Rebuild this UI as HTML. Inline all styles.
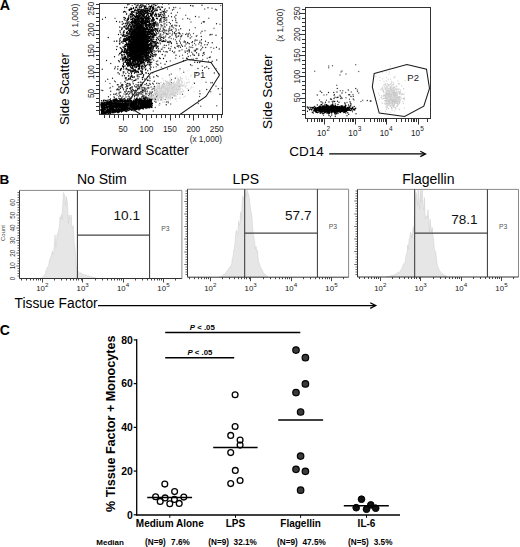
<!DOCTYPE html>
<html><head><meta charset="utf-8"><style>
html,body{margin:0;padding:0;background:#fff;}
body{width:520px;height:547px;overflow:hidden;}
svg{display:block;font-family:"Liberation Sans", sans-serif;}
</style></head><body>
<svg width="520" height="547" viewBox="0 0 520 547">
<rect width="520" height="547" fill="#fff"/>
<path d="M409 277h0M410 77h0M411 362h0M422 70h0M426 242h0M431 317h0M434 387h0M443 254h0M443 365h0M450 313h0M455 377h0M457 165h0M459 275h0M461 377h0M464 398h0M466 374h0M468 357h0M470 356h0M471 358h0M472 266h0M476 347h0M476 349h0M476 357h0M476 360h0M476 375h0M477 369h0M480 172h0M481 129h0M481 383h0M481 385h0M482 354h0M482 396h0M483 347h0M483 369h0M484 137h0M485 342h0M485 394h0M487 339h0M487 415h0M488 389h0M490 350h0M491 167h0M491 338h0M491 343h0M493 143h0M494 269h0M494 359h0M495 266h0M497 123h0M497 193h0M498 108h0M499 249h0M499 367h0M500 108h0M504 320h0M504 364h0M504 388h0M505 338h0M506 160h0M507 343h0M507 347h0M507 375h0M507 377h0M508 347h0M509 249h0M509 320h0M509 334h0M509 374h0M510 354h0M511 398h0M512 334h0M512 344h0M514 256h0M514 366h0M515 379h0M516 62h0M516 167h0M516 184h0M517 162h0M517 408h0M518 339h0M518 388h0M519 354h0M520 316h0M521 337h0M521 400h0M522 200h0M523 351h0M524 365h0M524 395h0M525 165h0M525 300h0M526 365h0M527 307h0M527 361h0M528 348h0M528 368h0M529 204h0M529 367h0M529 375h0M529 377h0M531 78h0M531 205h0M531 219h0M531 358h0M531 381h0M532 192h0M532 225h0M533 335h0M534 30h0M534 362h0M535 168h0M535 362h0M536 100h0M537 96h0M537 213h0M537 307h0M538 293h0M538 344h0M538 386h0M539 74h0M539 88h0M539 120h0M539 202h0M539 382h0M541 122h0M541 167h0M541 178h0M541 362h0M542 135h0M543 148h0M543 158h0M543 193h0M543 225h0M543 229h0M543 361h0M544 317h0M545 167h0M545 186h0M545 290h0M545 376h0M545 422h0M546 193h0M546 379h0M548 371h0M549 191h0M549 236h0M549 395h0M550 353h0M551 210h0M551 354h0M552 247h0M552 401h0M553 169h0M553 330h0M554 172h0M554 377h0M554 420h0M555 169h0M555 203h0M555 224h0M555 231h0M555 341h0M555 373h0M555 397h0M556 139h0M556 236h0M556 298h0M556 403h0M557 25h0M557 171h0M557 217h0M557 230h0M558 65h0M558 217h0M559 181h0M559 355h0M561 248h0M561 329h0M562 339h0M563 396h0M564 105h0M564 338h0M564 368h0M564 376h0M565 115h0M565 284h0M565 348h0M566 341h0M566 395h0M567 215h0M567 388h0M568 111h0M568 330h0M568 339h0M568 366h0M569 94h0M569 125h0M569 361h0M569 403h0M570 64h0M570 318h0M570 370h0M571 157h0M571 360h0M571 363h0M571 380h0M571 386h0M572 163h0M572 168h0M572 212h0M572 220h0M572 230h0M572 359h0M573 362h0M573 402h0M573 418h0M574 389h0M575 119h0M575 121h0M575 141h0M575 395h0M576 210h0M576 350h0M576 364h0M576 383h0M577 159h0M577 191h0M578 140h0M578 353h0M579 27h0M579 34h0M579 161h0M579 316h0M580 183h0M580 338h0M580 389h0M581 157h0M581 217h0M581 360h0M581 367h0M582 155h0M582 410h0M582 415h0M583 101h0M583 117h0M583 173h0M583 217h0M583 375h0M584 111h0M584 112h0M584 176h0M584 276h0M584 374h0M584 385h0M585 104h0M585 184h0M585 200h0M585 238h0M585 405h0M585 415h0M586 97h0M586 111h0M586 261h0M586 334h0M587 16h0M587 160h0M587 205h0M587 356h0M588 51h0M588 187h0M588 220h0M588 222h0M588 341h0M589 139h0M590 164h0M590 178h0M590 257h0M590 364h0M591 70h0M591 217h0M591 283h0M591 322h0M592 352h0M592 397h0M593 235h0M593 392h0M593 426h0M594 61h0M594 167h0M594 243h0M595 36h0M595 147h0M595 188h0M595 201h0M595 342h0M595 352h0M595 384h0M596 70h0M596 234h0M596 246h0M597 146h0M597 227h0M597 373h0M598 76h0M598 161h0M598 176h0M599 97h0M599 204h0M599 368h0M599 378h0M601 117h0M601 133h0M601 337h0M601 368h0M601 387h0M602 117h0M602 169h0M602 174h0M602 194h0M602 217h0M602 279h0M603 110h0M603 185h0M603 250h0M603 372h0M604 103h0M604 203h0M604 221h0M604 348h0M604 374h0M605 100h0M605 160h0M608 167h0M608 193h0M608 379h0M609 139h0M610 82h0M610 101h0M610 114h0M610 136h0M610 140h0M610 151h0M610 181h0M610 199h0M610 368h0M611 36h0M611 73h0M611 186h0M611 333h0M612 71h0M612 72h0M612 142h0M612 148h0M612 189h0M612 355h0M612 395h0M613 37h0M613 51h0M613 55h0M613 104h0M613 193h0M613 226h0M614 140h0M615 147h0M615 308h0M617 219h0M617 325h0M617 353h0M618 105h0M618 169h0M618 346h0M618 404h0M619 166h0M619 361h0M620 114h0M620 174h0M621 39h0M622 176h0M622 397h0M622 400h0M623 171h0M623 380h0M624 33h0M624 372h0M624 408h0M625 191h0M625 218h0M625 219h0M626 96h0M626 158h0M626 387h0M627 116h0M627 120h0M627 333h0M628 150h0M630 75h0M630 125h0M631 114h0M631 120h0M631 154h0M632 96h0M632 126h0M632 306h0M632 346h0M633 173h0M634 195h0M635 132h0M636 58h0M636 204h0M636 334h0M637 30h0M638 122h0M638 163h0M639 90h0M639 146h0M640 84h0M641 152h0M641 155h0M641 175h0M641 205h0M641 234h0M642 60h0M643 136h0M644 144h0M644 399h0M645 66h0M646 389h0M647 51h0M647 88h0M647 103h0M648 166h0M648 377h0M649 150h0M649 354h0M650 16h0M650 391h0M651 124h0M651 340h0M651 358h0M654 69h0M654 154h0M654 163h0M655 62h0M655 148h0M656 56h0M656 87h0M656 119h0M656 152h0M657 58h0M657 70h0M657 77h0M657 165h0M657 181h0M659 46h0M659 68h0M660 48h0M660 132h0M660 257h0M660 372h0M661 72h0M661 81h0M661 166h0M663 381h0M664 121h0M665 182h0M665 389h0M665 419h0M666 134h0M666 246h0M667 71h0M667 100h0M667 136h0M667 207h0M668 43h0M669 137h0M670 169h0M674 64h0M675 193h0M676 116h0M676 122h0M676 151h0M676 171h0M676 333h0M677 32h0M677 90h0M679 108h0M680 146h0M680 201h0M682 95h0M682 166h0M684 121h0M685 53h0M685 171h0M686 67h0M686 103h0M686 174h0M686 331h0M687 119h0M690 40h0M690 205h0M695 30h0M695 356h0M696 211h0M697 382h0M698 130h0M699 68h0M699 134h0M699 190h0M700 101h0M702 313h0M703 81h0M703 141h0M703 371h0M704 61h0M704 221h0M705 135h0M707 148h0M707 173h0M709 185h0M713 132h0M713 145h0M713 183h0M718 104h0M718 134h0M718 164h0M722 189h0M723 115h0M723 147h0M726 180h0M727 142h0M730 185h0M734 243h0M736 168h0M740 184h0M741 209h0M742 168h0M743 138h0M744 176h0M746 233h0M749 234h0M750 170h0M751 74h0M751 204h0M752 140h0M752 146h0M752 172h0M753 136h0M753 226h0M754 361h0M757 175h0M757 208h0M758 120h0M758 203h0M760 239h0M761 152h0M762 22h0M762 259h0M764 189h0M768 170h0M768 237h0M770 167h0M771 216h0M778 221h0M778 333h0M779 249h0M780 201h0M781 160h0M782 66h0M782 203h0M783 201h0M785 145h0M786 196h0M786 211h0M787 292h0M788 161h0M788 234h0M790 250h0M792 274h0M795 216h0M795 222h0M798 249h0M799 170h0M799 250h0M800 375h0M803 200h0M804 245h0M805 146h0M805 172h0M806 159h0M808 21h0M808 125h0M810 282h0M811 189h0M811 222h0M813 87h0M813 213h0M816 88h0M816 210h0M819 271h0M822 165h0M823 190h0M827 267h0M827 358h0M829 179h0M832 31h0M833 171h0M835 274h0M837 230h0M840 140h0M841 138h0M841 228h0M848 138h0M849 171h0M849 245h0M849 331h0M857 292h0M864 141h0M866 95h0M866 189h0M867 240h0M873 355h0M875 295h0M877 196h0M880 377h0M887 152h0M888 353h0" fill="none" stroke="#1a1a1a" stroke-width="5.20" stroke-linecap="round" transform="scale(0.25)"/>
<path d="M405 361h0M422 325h0M436 431h0M440 334h0M440 353h0M441 350h0M441 409h0M442 379h0M451 346h0M456 386h0M458 324h0M459 415h0M460 73h0M462 327h0M466 374h0M467 360h0M468 381h0M469 339h0M475 220h0M475 387h0M476 346h0M478 166h0M478 381h0M481 369h0M481 402h0M483 332h0M484 347h0M484 405h0M489 347h0M492 385h0M492 413h0M493 295h0M493 354h0M496 376h0M497 185h0M497 397h0M497 441h0M498 326h0M498 415h0M500 209h0M501 370h0M502 329h0M502 348h0M502 379h0M502 400h0M503 294h0M503 312h0M504 376h0M505 272h0M505 338h0M505 359h0M505 406h0M506 355h0M506 364h0M507 56h0M508 249h0M509 141h0M509 373h0M511 266h0M512 368h0M513 136h0M513 279h0M513 304h0M513 386h0M513 401h0M514 175h0M515 71h0M516 198h0M517 340h0M518 200h0M518 244h0M518 334h0M518 367h0M518 374h0M520 179h0M520 339h0M521 55h0M521 132h0M521 341h0M522 171h0M522 307h0M522 314h0M522 359h0M523 370h0M524 372h0M525 142h0M525 229h0M525 368h0M528 368h0M529 22h0M529 177h0M529 178h0M529 347h0M529 352h0M530 388h0M531 328h0M533 119h0M533 286h0M534 195h0M534 250h0M534 323h0M536 69h0M536 444h0M537 129h0M538 223h0M538 366h0M538 369h0M538 393h0M538 413h0M539 50h0M539 66h0M539 149h0M540 233h0M540 376h0M541 347h0M542 381h0M544 338h0M544 381h0M544 382h0M545 116h0M545 139h0M545 350h0M546 144h0M546 221h0M546 244h0M546 346h0M547 110h0M548 304h0M548 382h0M548 412h0M549 298h0M549 340h0M550 141h0M550 219h0M550 307h0M550 378h0M550 379h0M550 388h0M551 302h0M551 344h0M552 190h0M552 370h0M553 70h0M553 162h0M553 175h0M553 372h0M553 381h0M554 339h0M554 355h0M554 383h0M555 129h0M555 213h0M555 347h0M556 198h0M556 370h0M556 414h0M557 167h0M558 114h0M558 169h0M558 375h0M559 123h0M559 371h0M559 402h0M559 426h0M560 180h0M560 186h0M560 206h0M560 372h0M561 161h0M562 203h0M562 235h0M562 366h0M563 118h0M563 181h0M563 259h0M563 329h0M563 338h0M563 371h0M563 415h0M564 175h0M564 256h0M565 173h0M566 73h0M566 376h0M567 17h0M567 96h0M567 139h0M567 204h0M567 356h0M567 389h0M568 75h0M568 217h0M569 230h0M569 350h0M569 409h0M570 111h0M570 396h0M571 244h0M571 351h0M572 194h0M572 224h0M572 371h0M572 382h0M572 404h0M573 26h0M574 130h0M574 163h0M574 244h0M575 86h0M575 139h0M576 131h0M576 140h0M576 202h0M576 215h0M576 404h0M577 58h0M577 140h0M577 165h0M577 356h0M577 389h0M578 69h0M579 115h0M579 239h0M579 358h0M580 231h0M581 140h0M581 177h0M582 68h0M582 73h0M582 81h0M582 280h0M582 353h0M582 363h0M582 392h0M583 291h0M583 364h0M583 373h0M583 375h0M584 162h0M585 138h0M585 200h0M585 232h0M585 391h0M586 146h0M586 184h0M586 192h0M586 391h0M586 394h0M587 229h0M587 400h0M588 49h0M588 75h0M588 83h0M588 113h0M588 141h0M588 173h0M588 218h0M588 319h0M588 376h0M589 53h0M589 138h0M589 216h0M589 356h0M589 367h0M590 98h0M590 179h0M590 199h0M590 307h0M591 215h0M591 350h0M592 73h0M592 84h0M592 129h0M592 258h0M592 408h0M594 210h0M594 242h0M594 382h0M595 29h0M595 55h0M595 411h0M596 106h0M596 194h0M596 351h0M598 151h0M598 231h0M598 334h0M598 375h0M599 323h0M600 189h0M600 314h0M600 323h0M600 385h0M600 391h0M601 124h0M601 398h0M602 121h0M603 107h0M603 114h0M603 152h0M604 367h0M604 403h0M605 65h0M605 165h0M605 239h0M606 372h0M607 168h0M607 172h0M607 184h0M607 383h0M607 390h0M607 401h0M608 43h0M608 232h0M608 358h0M609 81h0M609 141h0M609 388h0M609 400h0M609 411h0M610 180h0M611 100h0M611 236h0M612 34h0M612 141h0M612 144h0M612 166h0M612 201h0M612 384h0M613 50h0M613 121h0M613 193h0M613 380h0M613 444h0M614 191h0M614 269h0M614 337h0M615 95h0M615 131h0M615 151h0M615 219h0M615 241h0M616 204h0M617 210h0M618 19h0M618 79h0M618 186h0M618 203h0M619 396h0M620 122h0M620 139h0M620 220h0M621 430h0M623 88h0M623 128h0M623 206h0M623 390h0M623 408h0M624 139h0M624 171h0M625 134h0M625 140h0M625 204h0M625 255h0M625 267h0M626 150h0M626 246h0M626 384h0M627 104h0M627 163h0M627 360h0M629 91h0M629 135h0M629 187h0M629 258h0M629 372h0M630 116h0M631 16h0M631 95h0M631 151h0M631 190h0M631 201h0M631 244h0M631 369h0M631 383h0M632 104h0M633 113h0M633 353h0M633 396h0M634 185h0M635 146h0M637 64h0M637 420h0M638 146h0M638 345h0M638 390h0M639 89h0M639 415h0M640 36h0M640 78h0M640 169h0M640 372h0M640 388h0M642 207h0M642 359h0M643 84h0M643 253h0M643 358h0M644 83h0M644 108h0M645 197h0M645 269h0M646 76h0M646 159h0M646 356h0M647 361h0M648 44h0M648 125h0M648 161h0M649 46h0M649 196h0M649 356h0M651 103h0M652 113h0M652 139h0M652 189h0M652 275h0M653 117h0M653 372h0M654 49h0M654 205h0M654 342h0M655 112h0M655 334h0M656 80h0M656 86h0M656 96h0M656 122h0M656 365h0M657 119h0M658 105h0M658 124h0M658 350h0M659 190h0M660 61h0M660 95h0M660 224h0M661 35h0M661 108h0M661 123h0M661 148h0M661 207h0M661 221h0M661 398h0M662 160h0M663 144h0M664 161h0M664 354h0M664 383h0M665 372h0M666 408h0M667 89h0M667 123h0M667 366h0M668 136h0M668 372h0M669 166h0M670 208h0M670 276h0M670 365h0M672 407h0M673 411h0M674 127h0M674 136h0M675 17h0M675 179h0M677 165h0M677 378h0M678 300h0M679 115h0M679 122h0M680 133h0M680 170h0M681 244h0M682 195h0M683 416h0M684 356h0M685 154h0M685 186h0M685 296h0M686 319h0M687 106h0M687 118h0M688 141h0M689 137h0M689 391h0M690 82h0M690 101h0M690 126h0M691 108h0M691 133h0M694 156h0M695 37h0M695 112h0M696 348h0M699 208h0M701 193h0M702 159h0M703 30h0M703 74h0M703 115h0M703 125h0M703 136h0M703 144h0M703 233h0M704 89h0M704 104h0M705 150h0M706 120h0M706 166h0M707 102h0M708 91h0M709 175h0M710 50h0M714 188h0M715 120h0M715 143h0M716 204h0M717 130h0M718 183h0M718 225h0M719 203h0M719 345h0M720 33h0M720 275h0M721 136h0M721 156h0M722 169h0M722 174h0M725 144h0M726 146h0M728 199h0M730 221h0M730 377h0M731 76h0M731 135h0M732 233h0M735 289h0M738 164h0M739 167h0M740 166h0M740 204h0M743 61h0M746 193h0M747 134h0M748 204h0M750 215h0M754 200h0M757 133h0M757 188h0M757 197h0M759 77h0M762 140h0M762 223h0M764 88h0M767 147h0M767 209h0M768 262h0M769 23h0M770 181h0M771 190h0M773 24h0M773 220h0M774 134h0M774 237h0M777 203h0M778 174h0M779 164h0M781 111h0M781 205h0M783 180h0M784 234h0M788 142h0M788 196h0M791 196h0M793 414h0M795 176h0M795 402h0M796 68h0M798 386h0M799 364h0M800 164h0M803 132h0M803 425h0M804 183h0M806 93h0M806 175h0M807 195h0M809 265h0M810 245h0M811 238h0M817 217h0M818 87h0M819 36h0M819 179h0M820 123h0M824 329h0M829 233h0M834 245h0M835 73h0M843 331h0M843 367h0M844 190h0M846 208h0M846 249h0M848 33h0M855 193h0M855 339h0M856 113h0M862 37h0M864 275h0M864 345h0M866 39h0M867 423h0M880 97h0M883 22h0" fill="none" stroke="#555" stroke-width="5.20" stroke-linecap="round" transform="scale(0.25)"/>
<path d="M573 344h0M587 352h0M597 387h0M598 392h0M599 352h0M599 399h0M600 370h0M600 382h0M600 389h0M601 395h0M602 377h0M602 423h0M603 384h0M605 366h0M609 389h0M610 380h0M610 385h0M612 352h0M612 400h0M613 395h0M614 347h0M614 379h0M614 387h0M615 387h0M616 364h0M616 374h0M616 391h0M619 371h0M619 373h0M620 365h0M620 382h0M620 389h0M620 390h0M621 372h0M621 373h0M621 381h0M622 356h0M622 403h0M623 350h0M623 381h0M624 364h0M624 368h0M624 370h0M625 365h0M625 371h0M625 404h0M626 363h0M626 372h0M626 397h0M627 380h0M627 382h0M628 396h0M629 332h0M629 351h0M629 354h0M629 369h0M629 394h0M629 399h0M630 341h0M630 347h0M630 373h0M630 375h0M630 378h0M630 391h0M630 401h0M631 351h0M631 358h0M631 361h0M632 345h0M632 367h0M632 369h0M632 375h0M633 372h0M633 377h0M633 380h0M634 347h0M634 353h0M634 369h0M634 371h0M634 374h0M634 375h0M634 397h0M635 345h0M635 374h0M635 403h0M636 371h0M637 344h0M637 352h0M637 355h0M637 370h0M637 376h0M637 379h0M637 382h0M637 389h0M638 348h0M638 349h0M638 350h0M638 386h0M639 339h0M639 360h0M639 363h0M639 371h0M639 389h0M639 419h0M640 352h0M640 353h0M640 366h0M640 367h0M640 370h0M640 382h0M640 393h0M641 360h0M641 361h0M641 368h0M641 374h0M641 386h0M642 354h0M642 360h0M642 361h0M642 362h0M642 365h0M642 366h0M642 367h0M642 369h0M642 379h0M642 392h0M642 400h0M643 368h0M643 372h0M643 373h0M643 382h0M643 384h0M644 330h0M644 358h0M644 366h0M644 372h0M645 347h0M645 349h0M645 359h0M645 366h0M645 374h0M646 343h0M646 344h0M646 349h0M646 366h0M646 375h0M646 384h0M646 394h0M647 349h0M647 352h0M647 353h0M647 363h0M647 368h0M647 377h0M647 390h0M647 392h0M647 393h0M647 395h0M648 343h0M648 349h0M648 353h0M648 356h0M648 369h0M648 377h0M648 385h0M649 352h0M649 362h0M649 365h0M649 372h0M649 375h0M649 378h0M649 379h0M649 381h0M649 385h0M649 388h0M649 393h0M650 352h0M650 354h0M650 362h0M650 363h0M650 364h0M650 370h0M650 389h0M650 391h0M651 314h0M651 371h0M651 375h0M651 376h0M651 379h0M651 385h0M651 393h0M651 410h0M652 339h0M652 346h0M652 357h0M652 362h0M652 365h0M652 366h0M652 374h0M652 376h0M653 337h0M653 339h0M653 342h0M653 344h0M653 346h0M653 369h0M653 378h0M653 383h0M653 387h0M654 353h0M654 354h0M654 355h0M654 369h0M654 375h0M654 377h0M654 396h0M655 343h0M655 349h0M655 351h0M655 352h0M655 356h0M655 359h0M655 361h0M655 369h0M655 372h0M655 386h0M655 387h0M656 340h0M656 342h0M656 351h0M656 362h0M656 382h0M657 333h0M657 341h0M657 348h0M657 349h0M657 355h0M657 360h0M657 366h0M657 370h0M657 379h0M658 337h0M658 340h0M658 341h0M658 345h0M658 346h0M658 363h0M658 366h0M658 367h0M658 370h0M658 374h0M658 375h0M658 377h0M658 408h0M659 345h0M659 347h0M659 353h0M659 360h0M659 362h0M659 365h0M659 369h0M659 374h0M659 376h0M659 377h0M659 380h0M659 383h0M660 357h0M660 359h0M660 361h0M660 365h0M660 369h0M660 374h0M660 408h0M661 357h0M661 360h0M661 363h0M661 368h0M661 370h0M661 387h0M662 326h0M662 354h0M662 355h0M662 359h0M662 362h0M662 364h0M662 365h0M662 369h0M662 376h0M662 383h0M663 323h0M663 344h0M663 359h0M663 367h0M663 369h0M663 378h0M663 383h0M664 346h0M664 364h0M664 368h0M664 369h0M665 333h0M665 341h0M665 348h0M665 359h0M665 360h0M665 361h0M665 380h0M665 391h0M666 335h0M666 339h0M666 347h0M666 355h0M666 360h0M666 363h0M666 372h0M666 375h0M666 380h0M666 382h0M667 329h0M667 353h0M667 358h0M667 361h0M667 365h0M667 368h0M667 370h0M667 372h0M667 378h0M667 384h0M668 326h0M668 336h0M668 343h0M668 348h0M668 350h0M668 352h0M668 358h0M668 360h0M668 361h0M668 364h0M668 366h0M668 367h0M668 369h0M668 372h0M668 383h0M669 347h0M669 348h0M669 355h0M669 357h0M669 358h0M669 361h0M669 366h0M669 370h0M670 346h0M670 359h0M670 360h0M670 367h0M670 371h0M670 373h0M670 376h0M670 377h0M670 379h0M671 334h0M671 346h0M671 347h0M671 349h0M671 353h0M671 355h0M671 360h0M671 367h0M671 370h0M671 372h0M671 375h0M671 387h0M671 395h0M672 328h0M672 329h0M672 346h0M672 350h0M672 354h0M672 358h0M672 359h0M672 360h0M672 365h0M673 340h0M673 349h0M673 356h0M673 358h0M673 362h0M673 365h0M673 368h0M674 348h0M674 354h0M674 355h0M674 359h0M674 362h0M674 368h0M674 374h0M674 376h0M674 377h0M674 390h0M675 334h0M675 340h0M675 346h0M675 349h0M675 360h0M675 361h0M675 364h0M675 365h0M675 376h0M675 378h0M676 330h0M676 331h0M676 340h0M676 351h0M676 355h0M676 362h0M676 369h0M676 371h0M676 372h0M676 374h0M676 381h0M676 386h0M676 392h0M677 332h0M677 334h0M677 336h0M677 347h0M677 352h0M677 356h0M677 361h0M677 362h0M677 367h0M677 372h0M677 379h0M678 350h0M678 354h0M678 362h0M678 369h0M678 371h0M678 386h0M678 388h0M679 337h0M679 341h0M679 343h0M679 351h0M679 355h0M679 362h0M679 368h0M679 374h0M679 376h0M679 379h0M679 384h0M680 321h0M680 329h0M680 347h0M680 353h0M680 355h0M680 357h0M680 360h0M680 362h0M680 372h0M680 384h0M680 389h0M681 347h0M681 349h0M681 355h0M681 363h0M681 365h0M681 373h0M681 376h0M681 383h0M681 397h0M682 337h0M682 340h0M682 344h0M682 348h0M682 352h0M682 354h0M682 369h0M682 371h0M682 373h0M682 379h0M683 325h0M683 337h0M683 342h0M683 351h0M683 356h0M683 359h0M683 364h0M683 372h0M683 384h0M683 385h0M683 392h0M684 332h0M684 334h0M684 337h0M684 343h0M684 346h0M684 352h0M684 358h0M684 363h0M684 368h0M684 373h0M684 377h0M685 334h0M685 342h0M685 345h0M685 347h0M685 351h0M685 352h0M685 353h0M685 356h0M685 361h0M686 339h0M686 343h0M686 348h0M686 352h0M686 363h0M686 365h0M686 366h0M686 367h0M686 371h0M686 377h0M687 347h0M687 361h0M687 363h0M687 364h0M687 367h0M688 334h0M688 353h0M688 356h0M688 361h0M688 363h0M688 373h0M689 343h0M689 347h0M689 353h0M689 356h0M689 377h0M689 383h0M690 352h0M691 363h0M691 365h0M691 368h0M691 372h0M691 375h0M692 333h0M692 365h0M692 370h0M693 333h0M693 335h0M693 336h0M693 341h0M693 343h0M693 348h0M693 353h0M693 364h0M693 379h0M694 331h0M694 337h0M694 344h0M694 346h0M694 360h0M694 361h0M694 363h0M694 365h0M694 367h0M695 332h0M695 337h0M695 339h0M695 342h0M695 346h0M695 350h0M695 356h0M695 363h0M695 365h0M696 337h0M696 348h0M696 360h0M696 361h0M696 367h0M696 369h0M696 376h0M696 385h0M697 339h0M697 340h0M697 358h0M697 359h0M697 360h0M697 377h0M698 314h0M698 339h0M698 341h0M699 340h0M699 347h0M699 358h0M699 383h0M700 315h0M700 353h0M700 358h0M700 359h0M700 360h0M700 364h0M700 373h0M701 349h0M701 350h0M701 357h0M701 359h0M701 377h0M701 382h0M701 395h0M702 336h0M702 339h0M702 344h0M702 355h0M702 356h0M702 374h0M702 396h0M703 337h0M703 339h0M703 351h0M703 358h0M703 360h0M704 339h0M704 354h0M704 369h0M704 385h0M705 344h0M705 368h0M706 339h0M706 341h0M706 345h0M706 352h0M706 359h0M707 331h0M707 348h0M708 327h0M708 339h0M708 369h0M709 344h0M709 353h0M709 355h0M709 359h0M709 367h0M709 377h0M710 336h0M710 363h0M711 320h0M711 335h0M711 341h0M711 359h0M711 364h0M711 377h0M712 312h0M712 324h0M712 334h0M712 372h0M713 318h0M713 334h0M713 344h0M713 354h0M713 362h0M714 318h0M714 331h0M714 348h0M715 324h0M715 347h0M715 363h0M716 341h0M716 357h0M716 361h0M717 325h0M717 332h0M717 344h0M717 356h0M718 321h0M719 336h0M719 351h0M719 353h0M720 321h0M720 356h0M720 394h0M721 368h0M722 309h0M723 315h0M723 342h0M723 355h0M723 376h0M726 327h0M726 336h0M726 367h0M727 343h0M729 314h0M729 329h0M730 342h0M730 344h0M733 340h0M733 366h0M740 385h0M746 332h0M749 354h0M757 329h0M765 348h0" fill="none" stroke="#cfcfcf" stroke-width="5.20" stroke-linecap="round" transform="scale(0.25)"/>
<path d="M547 417h0M552 364h0M568 396h0M583 344h0M589 360h0M592 357h0M594 387h0M600 364h0M602 347h0M602 383h0M604 390h0M608 379h0M609 410h0M611 389h0M611 403h0M615 375h0M618 379h0M619 401h0M620 352h0M620 383h0M621 367h0M622 384h0M624 390h0M625 345h0M628 329h0M628 357h0M629 345h0M629 396h0M631 350h0M632 339h0M635 363h0M635 381h0M635 386h0M635 393h0M636 344h0M636 372h0M636 374h0M638 419h0M641 360h0M641 375h0M642 331h0M644 372h0M645 343h0M645 369h0M646 330h0M646 360h0M647 356h0M649 340h0M649 385h0M649 402h0M650 393h0M651 355h0M651 358h0M651 362h0M651 369h0M651 383h0M651 402h0M652 383h0M652 393h0M654 324h0M655 361h0M657 353h0M658 343h0M658 364h0M660 358h0M660 385h0M661 323h0M661 344h0M662 322h0M662 387h0M663 369h0M664 336h0M664 368h0M664 390h0M665 334h0M665 335h0M665 363h0M665 398h0M666 370h0M667 349h0M667 365h0M667 373h0M668 345h0M669 345h0M669 385h0M672 356h0M673 401h0M674 345h0M674 347h0M674 371h0M674 377h0M674 379h0M675 301h0M675 371h0M675 399h0M676 386h0M677 358h0M678 309h0M678 358h0M678 365h0M678 370h0M680 388h0M681 347h0M681 349h0M681 375h0M682 346h0M682 358h0M682 372h0M683 352h0M684 313h0M684 364h0M686 368h0M687 345h0M689 366h0M690 341h0M690 363h0M691 341h0M692 381h0M693 344h0M695 337h0M695 354h0M696 325h0M696 360h0M697 333h0M697 367h0M698 327h0M698 353h0M699 331h0M701 344h0M701 364h0M702 352h0M703 335h0M703 361h0M703 377h0M704 338h0M704 372h0M705 335h0M705 348h0M706 345h0M706 385h0M707 326h0M707 395h0M707 405h0M708 304h0M709 329h0M709 331h0M710 354h0M711 342h0M711 352h0M712 336h0M712 369h0M714 325h0M714 361h0M716 353h0M718 378h0M719 283h0M719 371h0M720 342h0M720 353h0M720 361h0M720 377h0M720 388h0M721 316h0M721 366h0M722 339h0M723 318h0M725 322h0M726 294h0M726 335h0M730 357h0M731 344h0M731 367h0M732 362h0M733 363h0M734 282h0M735 389h0M736 345h0M737 329h0M739 336h0M741 342h0M741 350h0M744 308h0M744 346h0M745 343h0M746 316h0M750 331h0M752 281h0M752 329h0M754 319h0M763 304h0M763 354h0M765 301h0M769 338h0M772 350h0M774 330h0M776 367h0M807 319h0" fill="none" stroke="#e0e0e0" stroke-width="5.20" stroke-linecap="round" transform="scale(0.25)"/>
<path d="M466 198h0M471 276h0M472 339h0M477 247h0M480 162h0M481 191h0M483 151h0M483 237h0M484 275h0M484 279h0M485 194h0M485 209h0M486 274h0M487 118h0M488 114h0M488 199h0M488 222h0M488 228h0M488 229h0M489 141h0M489 199h0M489 205h0M489 303h0M490 220h0M491 144h0M491 237h0M491 240h0M491 263h0M492 173h0M492 188h0M492 206h0M492 236h0M492 244h0M493 132h0M493 144h0M494 157h0M494 258h0M494 268h0M495 126h0M495 210h0M495 276h0M496 70h0M496 130h0M496 155h0M496 159h0M496 190h0M496 219h0M496 234h0M497 79h0M497 201h0M497 228h0M498 165h0M498 199h0M498 202h0M498 207h0M498 211h0M498 219h0M498 303h0M499 105h0M499 147h0M499 155h0M500 195h0M500 197h0M500 232h0M500 236h0M501 146h0M501 161h0M501 179h0M501 204h0M501 209h0M501 225h0M501 241h0M501 312h0M502 166h0M502 186h0M502 196h0M502 246h0M502 248h0M503 155h0M503 227h0M504 81h0M504 141h0M504 161h0M504 162h0M504 168h0M504 180h0M504 212h0M505 117h0M505 200h0M505 234h0M505 241h0M505 312h0M506 103h0M506 131h0M506 151h0M506 173h0M506 216h0M506 241h0M506 258h0M507 144h0M507 160h0M507 179h0M507 210h0M507 252h0M507 256h0M507 274h0M508 113h0M508 177h0M508 179h0M508 184h0M508 254h0M509 162h0M509 193h0M509 209h0M509 214h0M509 215h0M509 232h0M509 239h0M509 241h0M509 254h0M509 279h0M510 155h0M510 158h0M510 159h0M510 186h0M510 196h0M510 202h0M510 224h0M511 76h0M511 135h0M511 149h0M511 154h0M511 155h0M511 178h0M511 189h0M511 200h0M511 210h0M511 255h0M511 256h0M511 288h0M512 139h0M512 153h0M512 155h0M512 210h0M512 223h0M512 227h0M512 239h0M512 248h0M513 73h0M513 78h0M513 108h0M513 174h0M513 216h0M513 249h0M513 252h0M513 263h0M514 68h0M514 107h0M514 148h0M514 189h0M515 91h0M515 121h0M515 152h0M515 166h0M515 171h0M515 177h0M515 194h0M515 210h0M515 236h0M515 243h0M515 281h0M515 318h0M516 86h0M516 123h0M516 134h0M516 148h0M516 160h0M516 166h0M516 167h0M516 177h0M516 188h0M516 204h0M516 251h0M517 96h0M517 147h0M517 166h0M517 189h0M517 198h0M517 211h0M517 236h0M517 257h0M517 262h0M518 124h0M518 132h0M518 148h0M518 185h0M518 209h0M518 218h0M518 222h0M518 225h0M518 235h0M518 237h0M518 245h0M519 139h0M519 147h0M519 150h0M519 166h0M519 167h0M519 181h0M519 193h0M519 195h0M519 202h0M519 203h0M519 211h0M519 212h0M519 240h0M519 245h0M520 113h0M520 145h0M520 167h0M520 180h0M520 188h0M520 222h0M520 225h0M520 243h0M520 252h0M520 258h0M520 259h0M521 123h0M521 149h0M521 162h0M521 168h0M521 174h0M521 186h0M521 188h0M521 191h0M521 209h0M521 216h0M521 239h0M521 248h0M521 255h0M521 315h0M522 90h0M522 163h0M522 177h0M522 184h0M522 190h0M522 192h0M522 211h0M522 219h0M522 223h0M522 234h0M522 245h0M523 118h0M523 125h0M523 138h0M523 148h0M523 168h0M523 172h0M523 176h0M523 183h0M523 204h0M523 210h0M523 214h0M523 221h0M523 229h0M523 234h0M523 240h0M523 251h0M523 254h0M523 280h0M524 110h0M524 130h0M524 137h0M524 138h0M524 140h0M524 150h0M524 152h0M524 153h0M524 154h0M524 156h0M524 157h0M524 178h0M524 183h0M524 187h0M524 190h0M524 197h0M524 211h0M524 215h0M524 216h0M524 230h0M524 251h0M524 263h0M525 38h0M525 106h0M525 135h0M525 142h0M525 143h0M525 148h0M525 153h0M525 155h0M525 183h0M525 208h0M525 214h0M525 216h0M525 223h0M525 232h0M525 239h0M525 257h0M526 87h0M526 114h0M526 132h0M526 158h0M526 176h0M526 179h0M526 187h0M526 189h0M526 195h0M526 203h0M526 206h0M526 217h0M526 218h0M526 262h0M526 305h0M527 106h0M527 119h0M527 138h0M527 140h0M527 147h0M527 151h0M527 185h0M527 188h0M527 189h0M527 196h0M527 198h0M527 218h0M527 222h0M527 229h0M527 261h0M528 66h0M528 87h0M528 99h0M528 113h0M528 119h0M528 126h0M528 131h0M528 135h0M528 145h0M528 153h0M528 156h0M528 171h0M528 183h0M528 188h0M528 191h0M528 192h0M528 208h0M528 218h0M528 253h0M528 273h0M528 283h0M529 60h0M529 73h0M529 95h0M529 132h0M529 157h0M529 179h0M529 192h0M529 194h0M529 197h0M529 204h0M529 225h0M529 233h0M529 252h0M529 273h0M529 283h0M530 75h0M530 84h0M530 123h0M530 128h0M530 134h0M530 135h0M530 148h0M530 151h0M530 153h0M530 159h0M530 183h0M530 195h0M530 201h0M530 209h0M530 219h0M530 228h0M530 230h0M530 237h0M530 238h0M530 239h0M530 268h0M530 309h0M531 90h0M531 120h0M531 122h0M531 133h0M531 135h0M531 140h0M531 145h0M531 150h0M531 151h0M531 160h0M531 171h0M531 172h0M531 173h0M531 179h0M531 196h0M531 199h0M531 227h0M531 239h0M531 242h0M531 244h0M531 263h0M532 49h0M532 99h0M532 107h0M532 113h0M532 128h0M532 134h0M532 137h0M532 160h0M532 175h0M532 191h0M532 193h0M532 206h0M532 213h0M532 220h0M532 225h0M532 226h0M532 238h0M532 260h0M532 274h0M533 59h0M533 75h0M533 108h0M533 120h0M533 135h0M533 146h0M533 154h0M533 156h0M533 165h0M533 172h0M533 174h0M533 185h0M533 197h0M533 229h0M533 237h0M534 135h0M534 143h0M534 151h0M534 170h0M534 178h0M534 183h0M534 190h0M534 208h0M534 256h0M534 284h0M535 105h0M535 111h0M535 125h0M535 143h0M535 153h0M535 156h0M535 171h0M535 174h0M535 180h0M535 183h0M535 189h0M535 201h0M535 203h0M535 205h0M535 207h0M535 209h0M535 216h0M535 228h0M535 233h0M535 235h0M535 240h0M535 243h0M535 247h0M536 61h0M536 84h0M536 102h0M536 110h0M536 118h0M536 124h0M536 131h0M536 137h0M536 143h0M536 145h0M536 165h0M536 169h0M536 176h0M536 178h0M536 182h0M536 183h0M536 188h0M536 198h0M536 201h0M536 210h0M536 217h0M536 231h0M536 239h0M536 261h0M536 309h0M537 126h0M537 134h0M537 143h0M537 145h0M537 146h0M537 150h0M537 157h0M537 159h0M537 161h0M537 164h0M537 165h0M537 181h0M537 182h0M537 183h0M537 186h0M537 190h0M537 193h0M537 201h0M537 210h0M537 212h0M537 215h0M537 227h0M537 233h0M537 234h0M537 268h0M537 280h0M538 42h0M538 101h0M538 105h0M538 120h0M538 128h0M538 135h0M538 139h0M538 147h0M538 149h0M538 152h0M538 153h0M538 156h0M538 158h0M538 164h0M538 168h0M538 176h0M538 178h0M538 182h0M538 185h0M538 188h0M538 190h0M538 191h0M538 192h0M538 195h0M538 201h0M538 205h0M538 209h0M538 222h0M538 260h0M539 92h0M539 102h0M539 116h0M539 131h0M539 136h0M539 143h0M539 153h0M539 158h0M539 160h0M539 162h0M539 167h0M539 172h0M539 175h0M539 176h0M539 179h0M539 181h0M539 182h0M539 188h0M539 191h0M539 196h0M539 211h0M539 221h0M539 241h0M539 262h0M539 289h0M540 80h0M540 81h0M540 121h0M540 125h0M540 129h0M540 133h0M540 140h0M540 141h0M540 144h0M540 146h0M540 151h0M540 154h0M540 160h0M540 170h0M540 172h0M540 173h0M540 177h0M540 183h0M540 187h0M540 197h0M540 201h0M540 202h0M540 214h0M540 216h0M540 219h0M540 233h0M540 238h0M540 239h0M540 241h0M540 267h0M540 282h0M541 86h0M541 91h0M541 93h0M541 110h0M541 118h0M541 122h0M541 127h0M541 132h0M541 139h0M541 140h0M541 150h0M541 157h0M541 170h0M541 178h0M541 183h0M541 185h0M541 196h0M541 208h0M541 211h0M541 212h0M541 217h0M541 226h0M541 229h0M541 233h0M541 236h0M541 251h0M541 277h0M541 281h0M541 288h0M542 81h0M542 97h0M542 127h0M542 128h0M542 134h0M542 142h0M542 155h0M542 159h0M542 162h0M542 165h0M542 176h0M542 178h0M542 180h0M542 182h0M542 185h0M542 192h0M542 193h0M542 195h0M542 201h0M542 207h0M542 214h0M542 222h0M542 236h0M542 283h0M542 288h0M543 78h0M543 87h0M543 88h0M543 94h0M543 101h0M543 104h0M543 120h0M543 123h0M543 127h0M543 134h0M543 147h0M543 150h0M543 151h0M543 152h0M543 153h0M543 162h0M543 166h0M543 176h0M543 178h0M543 180h0M543 198h0M543 203h0M543 206h0M543 208h0M543 209h0M543 212h0M543 214h0M543 216h0M543 217h0M543 220h0M543 243h0M544 86h0M544 139h0M544 141h0M544 149h0M544 152h0M544 156h0M544 165h0M544 166h0M544 173h0M544 177h0M544 182h0M544 183h0M544 187h0M544 190h0M544 196h0M544 198h0M544 199h0M544 208h0M544 213h0M544 214h0M544 222h0M544 223h0M544 226h0M544 233h0M544 251h0M544 257h0M544 260h0M545 50h0M545 88h0M545 98h0M545 116h0M545 118h0M545 127h0M545 144h0M545 147h0M545 148h0M545 158h0M545 160h0M545 161h0M545 164h0M545 165h0M545 171h0M545 181h0M545 191h0M545 193h0M545 205h0M545 207h0M545 210h0M545 221h0M545 224h0M545 228h0M545 232h0M545 255h0M545 270h0M546 110h0M546 115h0M546 116h0M546 130h0M546 132h0M546 134h0M546 136h0M546 147h0M546 151h0M546 161h0M546 164h0M546 168h0M546 172h0M546 175h0M546 178h0M546 179h0M546 184h0M546 186h0M546 193h0M546 195h0M546 200h0M546 207h0M546 211h0M546 217h0M546 223h0M546 227h0M546 269h0M547 80h0M547 120h0M547 127h0M547 133h0M547 135h0M547 145h0M547 171h0M547 184h0M547 190h0M547 193h0M547 207h0M547 229h0M547 232h0M547 235h0M547 286h0M548 42h0M548 95h0M548 98h0M548 103h0M548 115h0M548 117h0M548 134h0M548 142h0M548 149h0M548 150h0M548 152h0M548 156h0M548 169h0M548 170h0M548 189h0M548 207h0M548 209h0M548 222h0M548 236h0M549 105h0M549 108h0M549 109h0M549 139h0M549 141h0M549 146h0M549 154h0M549 155h0M549 156h0M549 162h0M549 166h0M549 170h0M549 173h0M549 174h0M549 179h0M549 180h0M549 190h0M549 191h0M549 200h0M549 201h0M549 224h0M549 236h0M549 244h0M549 258h0M549 261h0M549 285h0M549 288h0M550 67h0M550 88h0M550 94h0M550 111h0M550 117h0M550 127h0M550 132h0M550 166h0M550 170h0M550 175h0M550 184h0M550 185h0M550 186h0M550 189h0M550 191h0M550 198h0M550 203h0M550 219h0M550 227h0M550 245h0M550 252h0M550 254h0M550 255h0M551 76h0M551 120h0M551 125h0M551 136h0M551 137h0M551 138h0M551 139h0M551 143h0M551 151h0M551 156h0M551 157h0M551 159h0M551 174h0M551 175h0M551 176h0M551 183h0M551 190h0M551 194h0M551 195h0M551 210h0M551 217h0M551 223h0M551 227h0M551 230h0M552 85h0M552 97h0M552 109h0M552 144h0M552 145h0M552 152h0M552 154h0M552 160h0M552 163h0M552 166h0M552 168h0M552 175h0M552 179h0M552 181h0M552 183h0M552 187h0M552 188h0M552 193h0M552 194h0M552 203h0M552 208h0M552 210h0M552 218h0M552 219h0M552 231h0M552 235h0M552 240h0M552 250h0M553 77h0M553 88h0M553 113h0M553 117h0M553 125h0M553 131h0M553 139h0M553 144h0M553 148h0M553 149h0M553 153h0M553 158h0M553 159h0M553 160h0M553 164h0M553 167h0M553 168h0M553 178h0M553 189h0M553 193h0M553 197h0M553 209h0M553 218h0M553 224h0M553 233h0M553 240h0M553 256h0M553 285h0M554 108h0M554 132h0M554 148h0M554 158h0M554 168h0M554 178h0M554 191h0M554 205h0M554 223h0M554 248h0M554 274h0M554 290h0M555 38h0M555 50h0M555 60h0M555 63h0M555 92h0M555 94h0M555 102h0M555 108h0M555 120h0M555 125h0M555 126h0M555 131h0M555 145h0M555 148h0M555 153h0M555 162h0M555 164h0M555 167h0M555 169h0M555 177h0M555 179h0M555 186h0M555 189h0M555 190h0M555 195h0M555 225h0M555 262h0M556 56h0M556 63h0M556 93h0M556 105h0M556 119h0M556 134h0M556 146h0M556 148h0M556 150h0M556 151h0M556 178h0M556 187h0M556 188h0M556 192h0M556 193h0M556 194h0M556 195h0M556 203h0M556 207h0M556 209h0M556 215h0M556 216h0M556 217h0M556 220h0M556 225h0M556 229h0M556 232h0M556 262h0M556 307h0M557 80h0M557 101h0M557 105h0M557 108h0M557 111h0M557 114h0M557 129h0M557 132h0M557 135h0M557 136h0M557 138h0M557 154h0M557 155h0M557 161h0M557 163h0M557 169h0M557 170h0M557 175h0M557 176h0M557 179h0M557 184h0M557 193h0M557 198h0M557 206h0M557 209h0M557 213h0M557 219h0M557 225h0M557 239h0M557 242h0M557 260h0M558 52h0M558 95h0M558 96h0M558 126h0M558 133h0M558 137h0M558 143h0M558 148h0M558 154h0M558 160h0M558 163h0M558 170h0M558 181h0M558 185h0M558 202h0M558 204h0M558 213h0M558 215h0M558 226h0M558 230h0M558 235h0M558 244h0M559 95h0M559 101h0M559 102h0M559 106h0M559 113h0M559 125h0M559 137h0M559 146h0M559 148h0M559 150h0M559 155h0M559 159h0M559 160h0M559 164h0M559 170h0M559 179h0M559 183h0M559 189h0M559 201h0M559 205h0M559 247h0M559 263h0M559 266h0M560 76h0M560 86h0M560 103h0M560 116h0M560 122h0M560 131h0M560 132h0M560 136h0M560 139h0M560 146h0M560 155h0M560 156h0M560 158h0M560 176h0M560 182h0M560 183h0M560 185h0M560 188h0M560 191h0M560 192h0M560 216h0M560 222h0M560 227h0M560 235h0M560 256h0M561 106h0M561 117h0M561 128h0M561 132h0M561 142h0M561 143h0M561 145h0M561 152h0M561 168h0M561 181h0M561 188h0M561 195h0M561 197h0M561 208h0M561 209h0M561 249h0M562 69h0M562 90h0M562 106h0M562 108h0M562 109h0M562 127h0M562 132h0M562 147h0M562 155h0M562 159h0M562 160h0M562 161h0M562 162h0M562 169h0M562 171h0M562 181h0M562 183h0M562 185h0M562 199h0M562 201h0M562 205h0M562 210h0M562 213h0M562 253h0M562 284h0M563 140h0M563 146h0M563 170h0M563 177h0M563 185h0M563 193h0M563 198h0M563 201h0M563 211h0M563 216h0M563 227h0M563 233h0M564 103h0M564 107h0M564 116h0M564 117h0M564 120h0M564 128h0M564 130h0M564 150h0M564 152h0M564 169h0M564 170h0M564 174h0M564 181h0M564 195h0M564 202h0M564 203h0M564 209h0M564 210h0M564 215h0M564 224h0M564 228h0M564 232h0M564 233h0M564 234h0M564 239h0M564 241h0M564 245h0M564 247h0M565 37h0M565 84h0M565 105h0M565 115h0M565 135h0M565 136h0M565 140h0M565 141h0M565 149h0M565 155h0M565 156h0M565 157h0M565 169h0M565 172h0M565 173h0M565 175h0M565 180h0M565 184h0M565 195h0M565 196h0M565 209h0M565 231h0M565 239h0M565 244h0M566 54h0M566 81h0M566 93h0M566 96h0M566 107h0M566 108h0M566 130h0M566 137h0M566 138h0M566 139h0M566 142h0M566 150h0M566 153h0M566 157h0M566 161h0M566 165h0M566 174h0M566 178h0M566 179h0M566 180h0M566 186h0M566 190h0M566 195h0M566 199h0M566 204h0M566 207h0M566 221h0M566 226h0M566 252h0M566 266h0M566 271h0M566 296h0M567 54h0M567 73h0M567 85h0M567 101h0M567 106h0M567 114h0M567 121h0M567 127h0M567 129h0M567 131h0M567 132h0M567 136h0M567 142h0M567 153h0M567 155h0M567 169h0M567 171h0M567 175h0M567 176h0M567 177h0M567 181h0M567 182h0M567 187h0M567 195h0M567 197h0M567 198h0M567 202h0M567 216h0M567 217h0M567 221h0M567 226h0M567 254h0M568 57h0M568 91h0M568 107h0M568 111h0M568 113h0M568 125h0M568 129h0M568 131h0M568 137h0M568 141h0M568 146h0M568 149h0M568 154h0M568 156h0M568 165h0M568 171h0M568 173h0M568 197h0M568 200h0M568 201h0M568 204h0M568 208h0M568 209h0M568 215h0M568 219h0M568 221h0M568 223h0M568 229h0M568 245h0M568 267h0M569 58h0M569 80h0M569 81h0M569 105h0M569 111h0M569 132h0M569 144h0M569 156h0M569 157h0M569 162h0M569 175h0M569 179h0M569 197h0M569 202h0M569 205h0M569 206h0M569 207h0M569 211h0M569 218h0M569 233h0M569 236h0M569 261h0M569 284h0M569 287h0M569 290h0M569 311h0M570 50h0M570 62h0M570 74h0M570 75h0M570 92h0M570 108h0M570 116h0M570 123h0M570 148h0M570 151h0M570 153h0M570 162h0M570 164h0M570 169h0M570 187h0M570 191h0M570 201h0M570 202h0M570 206h0M570 209h0M570 228h0M570 245h0M570 264h0M571 75h0M571 86h0M571 94h0M571 111h0M571 115h0M571 118h0M571 127h0M571 144h0M571 147h0M571 150h0M571 153h0M571 163h0M571 167h0M571 173h0M571 176h0M571 181h0M571 183h0M571 200h0M571 205h0M571 218h0M571 236h0M571 239h0M571 273h0M571 277h0M571 310h0M572 81h0M572 92h0M572 116h0M572 117h0M572 119h0M572 124h0M572 128h0M572 135h0M572 143h0M572 144h0M572 159h0M572 180h0M572 183h0M572 189h0M572 190h0M572 196h0M572 210h0M572 236h0M572 250h0M573 21h0M573 133h0M573 147h0M573 152h0M573 159h0M573 165h0M573 174h0M573 175h0M573 178h0M573 188h0M573 193h0M573 208h0M573 249h0M573 307h0M574 112h0M574 120h0M574 126h0M574 138h0M574 140h0M574 149h0M574 150h0M574 152h0M574 163h0M574 167h0M574 168h0M574 169h0M574 177h0M574 210h0M574 212h0M574 213h0M574 217h0M574 242h0M574 301h0M575 75h0M575 79h0M575 94h0M575 112h0M575 119h0M575 120h0M575 125h0M575 134h0M575 145h0M575 148h0M575 151h0M575 157h0M575 158h0M575 163h0M575 168h0M575 174h0M575 187h0M575 190h0M575 196h0M575 201h0M575 202h0M575 209h0M575 212h0M575 220h0M575 299h0M576 60h0M576 83h0M576 97h0M576 125h0M576 139h0M576 152h0M576 154h0M576 155h0M576 156h0M576 166h0M576 173h0M576 176h0M576 182h0M576 194h0M576 197h0M576 208h0M576 213h0M576 227h0M576 240h0M576 251h0M576 257h0M577 71h0M577 111h0M577 114h0M577 131h0M577 139h0M577 143h0M577 147h0M577 151h0M577 152h0M577 155h0M577 167h0M577 168h0M577 173h0M577 175h0M577 177h0M577 196h0M577 197h0M577 198h0M577 199h0M577 205h0M577 209h0M577 242h0M578 68h0M578 90h0M578 113h0M578 117h0M578 126h0M578 129h0M578 136h0M578 142h0M578 149h0M578 150h0M578 154h0M578 155h0M578 156h0M578 174h0M578 181h0M578 187h0M578 204h0M578 211h0M578 221h0M579 43h0M579 93h0M579 117h0M579 128h0M579 129h0M579 131h0M579 150h0M579 158h0M579 160h0M579 176h0M579 187h0M579 199h0M579 201h0M579 208h0M579 222h0M579 252h0M579 261h0M580 69h0M580 88h0M580 123h0M580 124h0M580 168h0M580 183h0M580 190h0M580 209h0M580 232h0M580 261h0M581 28h0M581 75h0M581 115h0M581 121h0M581 145h0M581 146h0M581 152h0M581 173h0M581 181h0M581 183h0M581 191h0M581 201h0M581 203h0M581 209h0M581 231h0M581 232h0M582 35h0M582 76h0M582 88h0M582 101h0M582 105h0M582 146h0M582 155h0M582 168h0M582 173h0M582 183h0M582 184h0M582 186h0M582 187h0M582 198h0M582 224h0M582 266h0M582 267h0M582 278h0M583 73h0M583 92h0M583 93h0M583 115h0M583 127h0M583 133h0M583 136h0M583 139h0M583 143h0M583 148h0M583 150h0M583 164h0M583 169h0M583 170h0M583 183h0M583 186h0M583 195h0M583 238h0M583 244h0M584 92h0M584 93h0M584 98h0M584 118h0M584 135h0M584 140h0M584 146h0M584 147h0M584 165h0M584 176h0M584 218h0M584 232h0M585 64h0M585 86h0M585 88h0M585 93h0M585 104h0M585 140h0M585 141h0M585 145h0M585 146h0M585 147h0M585 157h0M585 166h0M585 186h0M585 188h0M585 199h0M585 208h0M585 210h0M585 226h0M585 227h0M585 236h0M585 241h0M585 292h0M586 112h0M586 128h0M586 158h0M586 160h0M586 163h0M586 175h0M586 186h0M586 189h0M586 194h0M586 205h0M586 208h0M586 213h0M586 221h0M586 223h0M586 228h0M586 234h0M586 236h0M587 77h0M587 88h0M587 117h0M587 126h0M587 143h0M587 149h0M587 152h0M587 153h0M587 180h0M587 239h0M588 73h0M588 114h0M588 156h0M588 159h0M588 168h0M588 212h0M588 240h0M589 100h0M589 126h0M589 133h0M589 148h0M589 163h0M589 171h0M589 184h0M589 189h0M589 193h0M589 200h0M589 211h0M589 222h0M589 223h0M590 59h0M590 109h0M590 114h0M590 117h0M590 119h0M590 172h0M590 174h0M590 195h0M590 250h0M591 72h0M591 101h0M591 113h0M591 117h0M591 118h0M591 130h0M591 152h0M591 158h0M591 195h0M591 211h0M591 229h0M591 231h0M592 115h0M592 116h0M592 127h0M592 134h0M592 136h0M592 140h0M592 159h0M592 183h0M592 196h0M592 205h0M592 221h0M592 321h0M593 89h0M593 103h0M593 164h0M593 166h0M593 180h0M593 181h0M593 187h0M593 188h0M593 190h0M593 196h0M593 201h0M593 208h0M593 210h0M593 215h0M593 243h0M593 251h0M594 85h0M594 178h0M594 191h0M594 196h0M594 208h0M594 294h0M595 66h0M595 74h0M595 119h0M595 146h0M595 153h0M595 183h0M595 227h0M595 238h0M596 104h0M596 139h0M596 150h0M596 161h0M596 178h0M596 215h0M596 225h0M597 92h0M597 100h0M597 109h0M597 118h0M597 137h0M597 151h0M597 178h0M597 207h0M597 260h0M598 111h0M598 129h0M598 165h0M598 180h0M598 190h0M598 195h0M598 238h0M599 44h0M599 111h0M599 119h0M599 128h0M599 164h0M599 196h0M599 197h0M599 210h0M599 244h0M599 249h0M599 308h0M600 95h0M600 115h0M600 147h0M600 229h0M600 252h0M600 257h0M601 30h0M601 37h0M601 54h0M601 180h0M601 193h0M601 239h0M601 264h0M602 97h0M602 145h0M602 160h0M602 203h0M602 226h0M602 230h0M603 53h0M603 124h0M603 132h0M603 135h0M603 140h0M603 146h0M603 193h0M603 199h0M603 200h0M603 206h0M603 207h0M604 154h0M604 156h0M604 177h0M604 197h0M604 207h0M604 220h0M605 107h0M605 176h0M605 180h0M605 192h0M606 106h0M606 118h0M606 121h0M606 137h0M606 209h0M606 211h0M607 119h0M607 123h0M607 132h0M607 148h0M607 164h0M607 185h0M607 188h0M607 249h0M608 43h0M608 150h0M608 161h0M608 165h0M608 173h0M608 184h0M608 203h0M608 206h0M608 224h0M609 51h0M609 78h0M609 159h0M609 165h0M610 125h0M610 214h0M610 225h0M611 31h0M611 109h0M611 136h0M611 166h0M611 291h0M612 74h0M612 94h0M612 131h0M612 146h0M612 219h0M613 82h0M613 89h0M613 107h0M613 121h0M613 129h0M613 134h0M613 190h0M614 80h0M614 166h0M615 76h0M615 148h0M615 158h0M616 172h0M616 180h0M617 142h0M618 120h0M618 135h0M618 183h0M619 102h0M620 185h0M621 118h0M623 53h0M623 88h0M623 140h0M625 100h0M625 159h0M625 177h0M626 132h0M627 302h0M629 42h0M630 170h0M632 100h0M634 207h0M640 125h0M641 38h0M645 150h0M652 71h0M654 46h0" fill="none" stroke="#000" stroke-width="5.20" stroke-linecap="round" transform="scale(0.25)"/>
<path d="M488 207h0M493 162h0M494 252h0M498 184h0M499 140h0M500 231h0M500 264h0M502 194h0M502 227h0M502 234h0M503 155h0M503 160h0M506 203h0M506 234h0M506 240h0M507 88h0M508 173h0M508 198h0M509 247h0M509 252h0M511 237h0M512 241h0M513 220h0M513 229h0M514 219h0M514 223h0M514 262h0M515 179h0M515 184h0M515 188h0M515 201h0M515 303h0M516 159h0M516 183h0M516 194h0M516 198h0M516 218h0M516 278h0M516 281h0M517 179h0M517 207h0M517 209h0M517 263h0M518 183h0M518 186h0M518 189h0M518 191h0M518 202h0M519 124h0M519 156h0M519 162h0M519 203h0M519 234h0M519 235h0M519 236h0M520 189h0M520 224h0M521 195h0M521 199h0M521 216h0M521 219h0M521 237h0M521 248h0M521 283h0M522 117h0M522 172h0M522 178h0M522 186h0M522 193h0M522 196h0M522 219h0M522 221h0M522 250h0M522 256h0M522 265h0M523 139h0M523 165h0M523 178h0M523 182h0M523 185h0M523 188h0M523 219h0M523 223h0M523 270h0M524 152h0M524 185h0M524 210h0M524 232h0M524 269h0M524 286h0M524 288h0M525 140h0M525 144h0M525 175h0M525 183h0M525 195h0M525 224h0M526 111h0M526 174h0M526 179h0M526 187h0M526 196h0M526 199h0M526 232h0M526 294h0M527 160h0M527 171h0M527 172h0M527 178h0M527 182h0M527 198h0M527 209h0M527 219h0M527 233h0M528 130h0M528 133h0M528 135h0M528 139h0M528 157h0M528 167h0M528 192h0M528 198h0M528 203h0M528 211h0M528 247h0M528 303h0M529 136h0M529 166h0M529 168h0M529 173h0M529 178h0M529 185h0M529 194h0M529 210h0M529 217h0M529 218h0M529 226h0M529 236h0M529 262h0M530 192h0M530 205h0M530 209h0M530 214h0M531 150h0M531 157h0M531 160h0M531 172h0M531 177h0M531 179h0M531 187h0M531 190h0M531 196h0M531 203h0M531 207h0M531 209h0M531 212h0M531 218h0M531 250h0M531 267h0M532 121h0M532 150h0M532 166h0M532 181h0M532 186h0M532 195h0M532 198h0M532 210h0M532 219h0M532 224h0M532 226h0M532 231h0M532 246h0M532 273h0M533 184h0M533 188h0M533 193h0M533 198h0M533 199h0M533 210h0M533 214h0M533 217h0M533 219h0M533 241h0M534 142h0M534 157h0M534 159h0M534 171h0M534 182h0M534 186h0M534 192h0M534 212h0M534 215h0M534 226h0M534 233h0M534 236h0M534 241h0M535 129h0M535 151h0M535 163h0M535 173h0M535 174h0M535 202h0M535 206h0M535 212h0M535 232h0M535 239h0M535 254h0M536 137h0M536 144h0M536 171h0M536 190h0M536 191h0M536 198h0M536 206h0M536 229h0M536 237h0M536 262h0M537 84h0M537 128h0M537 161h0M537 166h0M537 172h0M537 175h0M537 178h0M537 184h0M537 188h0M537 194h0M537 196h0M537 197h0M537 203h0M537 210h0M537 239h0M537 258h0M538 140h0M538 149h0M538 151h0M538 153h0M538 154h0M538 195h0M538 202h0M538 222h0M538 238h0M538 244h0M538 246h0M538 322h0M539 79h0M539 143h0M539 158h0M539 166h0M539 168h0M539 172h0M539 173h0M539 178h0M539 189h0M539 194h0M539 200h0M539 207h0M539 209h0M539 237h0M539 238h0M539 241h0M540 128h0M540 149h0M540 153h0M540 155h0M540 163h0M540 166h0M540 181h0M540 182h0M540 187h0M540 192h0M540 196h0M540 200h0M540 201h0M540 202h0M540 211h0M540 213h0M540 214h0M540 217h0M540 219h0M540 253h0M541 153h0M541 199h0M541 202h0M541 210h0M541 217h0M541 218h0M541 225h0M541 227h0M541 233h0M542 91h0M542 154h0M542 163h0M542 168h0M542 174h0M542 180h0M542 185h0M542 205h0M542 207h0M542 208h0M542 209h0M542 218h0M542 236h0M542 240h0M542 258h0M543 132h0M543 137h0M543 144h0M543 174h0M543 177h0M543 181h0M543 183h0M543 191h0M543 199h0M543 201h0M543 212h0M543 214h0M543 227h0M543 242h0M544 121h0M544 152h0M544 154h0M544 159h0M544 171h0M544 177h0M544 181h0M544 182h0M544 183h0M544 190h0M544 197h0M544 204h0M544 206h0M544 214h0M544 215h0M544 221h0M544 225h0M544 229h0M544 232h0M544 234h0M544 265h0M544 269h0M545 134h0M545 148h0M545 150h0M545 168h0M545 177h0M545 193h0M545 208h0M545 212h0M545 214h0M545 215h0M545 220h0M545 223h0M545 224h0M545 232h0M545 240h0M546 117h0M546 122h0M546 139h0M546 146h0M546 154h0M546 160h0M546 170h0M546 174h0M546 185h0M546 186h0M546 191h0M546 192h0M546 208h0M546 209h0M546 211h0M546 212h0M546 217h0M546 219h0M546 222h0M546 238h0M546 240h0M546 257h0M547 105h0M547 142h0M547 151h0M547 152h0M547 158h0M547 159h0M547 169h0M547 188h0M547 189h0M547 208h0M547 216h0M547 233h0M548 136h0M548 149h0M548 151h0M548 155h0M548 157h0M548 166h0M548 169h0M548 170h0M548 175h0M548 176h0M548 177h0M548 179h0M548 203h0M548 204h0M548 205h0M548 210h0M548 219h0M548 231h0M548 253h0M549 84h0M549 135h0M549 159h0M549 165h0M549 176h0M549 187h0M549 195h0M549 196h0M549 208h0M549 209h0M549 225h0M549 228h0M550 116h0M550 126h0M550 134h0M550 141h0M550 149h0M550 154h0M550 156h0M550 159h0M550 170h0M550 187h0M550 191h0M550 192h0M550 209h0M550 211h0M550 231h0M551 109h0M551 136h0M551 137h0M551 138h0M551 142h0M551 152h0M551 167h0M551 188h0M551 193h0M551 194h0M551 198h0M551 201h0M551 218h0M551 220h0M551 224h0M551 244h0M552 103h0M552 125h0M552 137h0M552 149h0M552 163h0M552 173h0M552 176h0M552 180h0M552 186h0M552 190h0M552 192h0M552 197h0M552 212h0M552 220h0M552 239h0M552 252h0M552 265h0M553 119h0M553 121h0M553 125h0M553 126h0M553 129h0M553 145h0M553 148h0M553 151h0M553 153h0M553 155h0M553 165h0M553 167h0M553 170h0M553 173h0M553 183h0M553 189h0M553 190h0M553 191h0M553 193h0M553 198h0M553 203h0M553 214h0M553 225h0M553 236h0M553 248h0M553 260h0M553 267h0M553 277h0M554 135h0M554 139h0M554 143h0M554 146h0M554 155h0M554 157h0M554 178h0M554 181h0M554 190h0M554 200h0M554 215h0M554 224h0M554 238h0M555 45h0M555 109h0M555 138h0M555 164h0M555 179h0M555 181h0M555 183h0M555 201h0M555 205h0M555 206h0M555 210h0M555 213h0M555 217h0M555 221h0M555 222h0M555 229h0M555 232h0M555 234h0M555 235h0M555 236h0M555 266h0M556 117h0M556 130h0M556 137h0M556 139h0M556 151h0M556 155h0M556 169h0M556 179h0M556 196h0M556 200h0M556 227h0M557 82h0M557 174h0M557 179h0M557 186h0M557 187h0M557 190h0M557 197h0M557 216h0M557 224h0M557 228h0M557 239h0M557 244h0M557 253h0M557 265h0M557 277h0M558 138h0M558 165h0M558 166h0M558 168h0M558 175h0M558 177h0M558 178h0M558 185h0M558 188h0M558 190h0M558 196h0M558 199h0M558 203h0M558 206h0M558 218h0M558 220h0M558 245h0M558 271h0M558 273h0M559 73h0M559 107h0M559 130h0M559 143h0M559 164h0M559 166h0M559 171h0M559 186h0M559 191h0M559 196h0M559 197h0M559 206h0M559 217h0M559 222h0M559 227h0M560 115h0M560 120h0M560 151h0M560 160h0M560 174h0M560 182h0M560 198h0M560 199h0M560 212h0M560 236h0M560 246h0M561 116h0M561 122h0M561 124h0M561 133h0M561 135h0M561 160h0M561 161h0M561 162h0M561 187h0M561 190h0M561 196h0M561 198h0M561 217h0M561 229h0M561 242h0M562 117h0M562 129h0M562 130h0M562 142h0M562 163h0M562 177h0M562 190h0M562 197h0M562 202h0M562 211h0M562 215h0M562 217h0M562 218h0M562 220h0M562 221h0M562 234h0M562 242h0M562 254h0M563 123h0M563 135h0M563 142h0M563 149h0M563 155h0M563 162h0M563 169h0M563 172h0M563 174h0M563 179h0M563 202h0M563 203h0M563 210h0M563 222h0M563 241h0M564 100h0M564 114h0M564 128h0M564 157h0M564 168h0M564 171h0M564 187h0M564 189h0M564 200h0M564 216h0M564 218h0M565 142h0M565 163h0M565 168h0M565 170h0M565 177h0M565 191h0M565 192h0M565 207h0M565 221h0M565 226h0M565 265h0M565 275h0M566 91h0M566 113h0M566 139h0M566 143h0M566 149h0M566 150h0M566 155h0M566 162h0M566 164h0M566 178h0M566 189h0M566 192h0M566 214h0M566 215h0M566 216h0M566 220h0M566 288h0M567 127h0M567 153h0M567 160h0M567 164h0M567 168h0M567 170h0M567 172h0M567 194h0M567 196h0M567 197h0M567 200h0M567 216h0M567 227h0M567 249h0M568 126h0M568 138h0M568 139h0M568 143h0M568 144h0M568 146h0M568 156h0M568 165h0M568 166h0M568 172h0M568 197h0M568 206h0M568 209h0M568 213h0M569 118h0M569 128h0M569 139h0M569 151h0M569 155h0M569 168h0M569 185h0M569 192h0M569 200h0M569 204h0M569 207h0M569 237h0M570 101h0M570 179h0M570 186h0M570 190h0M571 91h0M571 137h0M571 141h0M571 143h0M571 144h0M571 148h0M571 162h0M571 181h0M571 191h0M571 252h0M572 132h0M572 142h0M572 146h0M572 148h0M572 154h0M572 157h0M572 163h0M572 180h0M572 192h0M572 199h0M572 215h0M572 227h0M573 138h0M573 147h0M573 163h0M573 175h0M573 177h0M573 183h0M573 184h0M573 206h0M573 238h0M574 125h0M574 128h0M574 142h0M574 155h0M574 160h0M574 167h0M574 177h0M574 178h0M574 181h0M574 183h0M574 185h0M574 188h0M574 193h0M574 199h0M574 212h0M575 146h0M575 153h0M575 171h0M575 200h0M575 217h0M575 233h0M575 245h0M576 99h0M576 155h0M576 160h0M576 169h0M576 170h0M576 171h0M576 175h0M576 176h0M576 183h0M576 190h0M576 191h0M576 215h0M576 224h0M577 160h0M577 200h0M577 211h0M577 239h0M577 271h0M578 118h0M578 135h0M578 147h0M578 197h0M578 199h0M578 202h0M578 216h0M578 218h0M578 221h0M579 126h0M579 138h0M579 140h0M579 141h0M579 145h0M579 165h0M579 176h0M579 189h0M579 200h0M579 201h0M579 208h0M580 134h0M580 177h0M580 189h0M580 195h0M580 201h0M581 104h0M581 135h0M581 225h0M581 229h0M582 96h0M582 143h0M582 171h0M583 146h0M583 166h0M583 192h0M583 214h0M583 244h0M584 189h0M584 197h0M584 213h0M585 160h0M585 162h0M585 169h0M585 184h0M585 190h0M585 201h0M585 205h0M585 206h0M585 223h0M586 163h0M586 194h0M586 216h0M587 106h0M587 139h0M587 166h0M587 169h0M587 214h0M588 131h0M588 156h0M588 164h0M588 186h0M588 221h0M589 114h0M589 143h0M589 164h0M589 182h0M589 211h0M589 240h0M590 171h0M590 234h0M591 179h0M592 165h0M592 171h0M592 179h0M592 185h0M592 209h0M593 163h0M593 208h0M594 125h0M594 128h0M595 163h0M596 154h0M596 162h0M597 92h0M597 128h0M598 153h0M598 177h0M598 196h0M600 130h0M600 164h0M601 97h0M601 190h0M601 250h0M603 173h0M604 199h0M605 110h0M605 157h0M608 207h0M612 126h0M612 196h0M613 119h0M614 185h0M616 100h0" fill="none" stroke="#000" stroke-width="5.20" stroke-linecap="round" transform="scale(0.25)"/>
<path d="M488 111h0M489 87h0M489 97h0M494 48h0M497 71h0M498 46h0M499 30h0M502 73h0M503 48h0M505 103h0M506 56h0M507 30h0M509 84h0M509 115h0M510 79h0M510 80h0M511 92h0M512 76h0M515 75h0M516 17h0M517 38h0M517 41h0M517 103h0M521 59h0M521 67h0M521 97h0M523 77h0M524 32h0M524 56h0M524 68h0M524 70h0M524 79h0M525 38h0M525 47h0M526 78h0M526 124h0M527 51h0M527 59h0M527 91h0M528 35h0M528 49h0M529 54h0M529 91h0M530 83h0M530 100h0M531 46h0M531 101h0M533 84h0M533 88h0M534 34h0M534 48h0M534 92h0M537 64h0M538 16h0M538 65h0M538 78h0M539 44h0M539 88h0M539 94h0M540 107h0M541 37h0M541 42h0M542 66h0M542 67h0M542 79h0M543 30h0M543 71h0M543 80h0M543 86h0M544 66h0M545 56h0M545 77h0M545 92h0M545 103h0M546 86h0M547 29h0M547 43h0M547 54h0M547 63h0M547 86h0M547 87h0M547 103h0M547 120h0M548 54h0M548 67h0M548 97h0M548 99h0M548 110h0M549 36h0M549 72h0M549 82h0M550 54h0M550 63h0M550 69h0M551 22h0M551 65h0M551 67h0M551 91h0M551 107h0M552 19h0M552 50h0M552 64h0M552 72h0M552 77h0M552 79h0M552 94h0M552 117h0M553 38h0M553 87h0M553 105h0M554 45h0M555 74h0M555 100h0M555 124h0M556 39h0M556 49h0M556 58h0M556 70h0M557 31h0M557 55h0M557 66h0M558 32h0M559 39h0M559 63h0M559 110h0M560 92h0M561 23h0M561 48h0M561 74h0M561 91h0M561 99h0M561 111h0M562 20h0M562 44h0M562 49h0M562 54h0M563 30h0M563 47h0M563 58h0M563 62h0M563 64h0M563 88h0M563 123h0M563 130h0M564 65h0M564 78h0M564 98h0M564 112h0M565 59h0M565 70h0M566 41h0M566 68h0M566 75h0M566 93h0M566 97h0M567 24h0M567 28h0M567 59h0M567 87h0M568 26h0M568 94h0M568 99h0M568 108h0M569 20h0M569 41h0M569 47h0M569 48h0M569 58h0M569 78h0M569 92h0M569 121h0M570 39h0M570 46h0M571 50h0M572 63h0M572 68h0M573 83h0M574 41h0M574 64h0M574 87h0M575 53h0M575 59h0M575 67h0M575 75h0M575 81h0M575 94h0M575 103h0M576 36h0M576 43h0M576 45h0M576 46h0M576 55h0M576 67h0M576 113h0M576 123h0M577 43h0M577 56h0M577 60h0M577 83h0M577 86h0M578 29h0M578 59h0M579 24h0M579 43h0M579 45h0M580 24h0M580 113h0M580 117h0M581 39h0M581 53h0M581 54h0M582 47h0M582 79h0M582 83h0M582 94h0M583 67h0M584 25h0M584 47h0M584 76h0M584 80h0M585 43h0M585 49h0M585 86h0M586 61h0M587 33h0M587 40h0M587 52h0M587 76h0M587 84h0M588 52h0M588 73h0M589 43h0M589 110h0M589 113h0M590 34h0M590 47h0M590 90h0M591 40h0M591 50h0M591 57h0M591 59h0M591 87h0M591 116h0M593 77h0M594 53h0M595 42h0M595 44h0M595 98h0M596 107h0M596 126h0M597 25h0M597 53h0M598 101h0M598 102h0M598 136h0M599 45h0M599 67h0M599 83h0M600 34h0M600 109h0M601 75h0M602 26h0M602 61h0M603 57h0M603 59h0M603 60h0M603 95h0M604 27h0M604 32h0M604 60h0M604 95h0M605 45h0M605 63h0M606 57h0M606 81h0M607 21h0M607 25h0M608 47h0M608 60h0M608 61h0M608 63h0M608 68h0M609 40h0M609 52h0M609 59h0M610 31h0M611 70h0M611 72h0M611 112h0M612 39h0M612 85h0M613 28h0M613 30h0M613 34h0M613 49h0M614 72h0M616 35h0M617 80h0M618 90h0M619 43h0M619 90h0M619 93h0M619 97h0M620 58h0M622 22h0M624 43h0M624 57h0M624 60h0M624 66h0M625 42h0M626 63h0M628 37h0M628 73h0M629 74h0M631 29h0M633 56h0M633 66h0M641 51h0M642 38h0M643 80h0M645 28h0M647 68h0M649 59h0M654 131h0M658 40h0M667 80h0" fill="none" stroke="#000" stroke-width="5.20" stroke-linecap="round" transform="scale(0.25)"/>
<path d="M433 150h0M458 227h0M461 268h0M466 86h0M467 164h0M467 165h0M468 186h0M472 291h0M474 138h0M475 242h0M477 296h0M478 175h0M478 215h0M479 88h0M479 108h0M479 156h0M479 176h0M480 123h0M480 213h0M481 282h0M482 278h0M484 212h0M486 168h0M486 208h0M486 219h0M488 204h0M489 233h0M491 266h0M493 236h0M493 255h0M493 288h0M494 138h0M494 267h0M495 94h0M495 107h0M495 166h0M495 239h0M496 229h0M496 288h0M498 232h0M500 144h0M500 162h0M501 209h0M503 93h0M503 95h0M503 113h0M503 178h0M504 250h0M504 276h0M505 209h0M505 275h0M506 134h0M506 204h0M507 155h0M507 236h0M508 116h0M508 143h0M509 93h0M509 99h0M509 109h0M509 126h0M509 207h0M509 220h0M509 240h0M510 220h0M510 260h0M510 263h0M511 19h0M511 129h0M511 182h0M512 131h0M513 77h0M513 144h0M514 112h0M514 158h0M514 179h0M514 255h0M515 102h0M515 121h0M515 314h0M516 116h0M516 190h0M516 212h0M516 258h0M516 294h0M517 40h0M517 118h0M517 154h0M517 198h0M518 124h0M518 166h0M518 176h0M518 233h0M519 98h0M519 124h0M519 126h0M519 132h0M519 187h0M520 37h0M520 39h0M520 159h0M520 176h0M520 194h0M521 126h0M521 166h0M521 203h0M521 213h0M521 309h0M522 105h0M522 166h0M522 171h0M522 178h0M523 37h0M523 59h0M523 116h0M523 181h0M523 194h0M523 352h0M524 103h0M524 105h0M524 133h0M524 161h0M524 169h0M524 171h0M524 194h0M525 254h0M525 288h0M526 93h0M526 194h0M526 221h0M526 272h0M527 180h0M527 192h0M527 258h0M527 259h0M528 169h0M528 170h0M528 192h0M528 202h0M528 319h0M529 88h0M529 89h0M529 175h0M529 213h0M529 222h0M529 238h0M529 253h0M530 64h0M530 147h0M530 287h0M531 76h0M531 181h0M531 232h0M531 262h0M531 286h0M532 147h0M532 151h0M532 185h0M533 72h0M533 87h0M533 89h0M533 147h0M533 154h0M533 163h0M533 278h0M534 60h0M534 133h0M534 142h0M534 160h0M534 259h0M535 143h0M535 152h0M535 167h0M535 217h0M536 141h0M536 166h0M536 168h0M536 225h0M537 118h0M537 192h0M537 213h0M537 284h0M538 112h0M538 159h0M539 41h0M539 76h0M539 91h0M540 123h0M540 155h0M540 161h0M540 166h0M540 187h0M540 223h0M540 248h0M541 103h0M541 153h0M541 162h0M541 201h0M542 70h0M542 115h0M542 120h0M542 207h0M542 227h0M542 228h0M542 247h0M543 16h0M543 161h0M543 191h0M543 321h0M544 130h0M544 152h0M544 171h0M544 177h0M544 191h0M544 213h0M544 215h0M544 220h0M544 222h0M544 225h0M544 283h0M545 24h0M545 56h0M545 61h0M545 153h0M545 187h0M545 210h0M545 211h0M545 221h0M545 229h0M546 117h0M546 210h0M546 265h0M547 72h0M547 104h0M547 163h0M548 77h0M548 137h0M548 146h0M548 170h0M548 266h0M549 113h0M549 194h0M549 204h0M549 241h0M550 44h0M550 94h0M550 158h0M550 194h0M550 197h0M551 107h0M551 134h0M551 147h0M551 199h0M551 211h0M551 218h0M552 97h0M552 114h0M552 260h0M552 315h0M553 93h0M553 104h0M553 133h0M553 154h0M553 160h0M554 68h0M554 104h0M554 133h0M554 175h0M554 190h0M554 231h0M554 257h0M555 82h0M555 173h0M555 217h0M555 230h0M556 56h0M556 70h0M556 95h0M556 116h0M556 204h0M556 210h0M556 214h0M557 122h0M557 131h0M557 132h0M557 136h0M557 143h0M557 202h0M557 258h0M558 47h0M558 86h0M558 110h0M558 140h0M558 271h0M559 113h0M559 136h0M559 208h0M559 221h0M560 91h0M560 106h0M560 126h0M560 137h0M560 145h0M560 173h0M560 182h0M560 227h0M561 89h0M561 105h0M561 147h0M561 174h0M561 244h0M561 297h0M562 85h0M562 132h0M562 152h0M563 40h0M563 130h0M563 208h0M563 250h0M564 174h0M564 217h0M565 46h0M565 50h0M565 81h0M565 148h0M565 153h0M565 160h0M565 215h0M565 251h0M566 55h0M566 84h0M566 170h0M566 177h0M566 214h0M566 227h0M566 240h0M567 80h0M567 126h0M567 171h0M567 179h0M568 113h0M568 132h0M568 153h0M568 162h0M568 203h0M569 57h0M569 59h0M569 69h0M569 80h0M569 111h0M569 135h0M569 141h0M569 157h0M569 182h0M569 200h0M570 79h0M570 148h0M570 173h0M570 182h0M570 197h0M570 212h0M570 249h0M570 294h0M571 75h0M571 248h0M572 80h0M572 99h0M572 105h0M572 106h0M572 139h0M572 145h0M572 151h0M572 172h0M572 186h0M572 204h0M572 220h0M573 40h0M573 60h0M573 73h0M573 87h0M573 129h0M573 197h0M573 227h0M574 51h0M574 76h0M574 145h0M574 148h0M574 204h0M574 209h0M575 93h0M575 109h0M575 135h0M575 147h0M575 153h0M575 210h0M575 265h0M576 47h0M576 143h0M576 149h0M576 152h0M576 183h0M576 185h0M576 203h0M577 48h0M577 156h0M578 54h0M578 137h0M578 201h0M579 158h0M579 191h0M579 204h0M579 222h0M580 147h0M580 179h0M581 116h0M581 168h0M581 264h0M582 122h0M582 130h0M582 149h0M582 158h0M582 170h0M582 186h0M582 194h0M582 227h0M583 84h0M583 128h0M583 145h0M583 151h0M583 186h0M583 193h0M583 229h0M584 41h0M584 52h0M584 122h0M584 140h0M584 202h0M585 96h0M585 116h0M585 190h0M585 221h0M586 33h0M586 100h0M586 115h0M587 64h0M587 66h0M587 70h0M587 157h0M587 201h0M587 203h0M587 239h0M588 157h0M588 178h0M588 191h0M588 244h0M589 173h0M589 202h0M589 211h0M590 70h0M590 85h0M590 147h0M590 199h0M591 81h0M591 138h0M591 185h0M591 191h0M591 228h0M592 73h0M592 76h0M592 156h0M592 171h0M592 179h0M592 229h0M592 244h0M593 145h0M593 155h0M593 161h0M593 245h0M594 69h0M594 122h0M594 182h0M594 196h0M594 221h0M595 17h0M595 77h0M595 100h0M595 125h0M595 132h0M595 149h0M596 75h0M596 101h0M596 136h0M596 183h0M597 83h0M597 97h0M597 119h0M597 152h0M597 212h0M598 90h0M598 100h0M599 37h0M599 146h0M600 87h0M600 126h0M600 148h0M600 201h0M600 274h0M602 99h0M602 132h0M602 157h0M603 125h0M603 173h0M604 124h0M604 257h0M604 269h0M605 135h0M605 192h0M606 174h0M606 182h0M607 87h0M607 133h0M607 139h0M607 182h0M607 183h0M608 85h0M608 94h0M608 99h0M608 101h0M608 124h0M608 125h0M608 214h0M609 139h0M610 55h0M610 56h0M611 119h0M611 148h0M612 152h0M613 19h0M613 93h0M613 171h0M614 100h0M615 28h0M615 96h0M616 46h0M616 92h0M616 141h0M617 112h0M618 63h0M618 103h0M618 138h0M620 96h0M620 167h0M621 142h0M621 178h0M621 217h0M621 224h0M622 92h0M622 115h0M622 125h0M622 183h0M624 21h0M624 115h0M624 167h0M626 59h0M626 74h0M626 183h0M626 193h0M627 174h0M628 121h0M628 185h0M629 185h0M632 260h0M634 158h0M635 27h0M636 60h0M638 65h0M638 232h0M639 81h0M640 140h0M641 116h0M642 161h0M643 58h0M643 74h0M644 99h0M649 166h0M649 218h0M650 29h0M654 165h0M654 234h0M657 53h0M664 49h0M675 168h0" fill="none" stroke="#000" stroke-width="5.20" stroke-linecap="round" transform="scale(0.25)"/>
<path d="M403 417h0M403 440h0M404 419h0M404 420h0M404 423h0M404 438h0M404 442h0M405 411h0M405 413h0M405 427h0M405 429h0M405 439h0M405 453h0M406 403h0M406 417h0M406 426h0M406 442h0M406 445h0M406 446h0M406 450h0M406 452h0M406 455h0M407 427h0M407 428h0M407 436h0M407 440h0M407 444h0M407 447h0M407 452h0M408 412h0M408 418h0M408 423h0M408 424h0M408 430h0M408 433h0M408 440h0M408 441h0M408 445h0M408 446h0M408 448h0M408 453h0M409 411h0M409 414h0M409 418h0M409 419h0M409 436h0M409 438h0M409 443h0M410 412h0M410 413h0M410 424h0M410 430h0M410 432h0M410 433h0M410 442h0M410 454h0M411 425h0M411 429h0M411 439h0M411 445h0M411 452h0M411 456h0M412 413h0M412 417h0M412 418h0M412 437h0M412 444h0M413 405h0M413 415h0M413 421h0M413 429h0M413 433h0M413 434h0M413 441h0M413 443h0M413 445h0M413 446h0M413 447h0M413 450h0M413 451h0M414 402h0M414 414h0M414 420h0M414 424h0M414 429h0M414 435h0M414 448h0M414 453h0M415 412h0M415 419h0M415 422h0M415 423h0M415 424h0M415 438h0M415 442h0M415 445h0M416 400h0M416 410h0M416 417h0M416 456h0M417 415h0M417 430h0M417 431h0M417 434h0M417 436h0M417 439h0M417 443h0M417 449h0M418 409h0M418 418h0M418 432h0M418 451h0M419 421h0M419 422h0M419 423h0M419 425h0M419 429h0M419 432h0M419 448h0M419 453h0M420 411h0M420 414h0M420 415h0M420 419h0M420 424h0M420 438h0M421 402h0M421 423h0M421 438h0M422 417h0M422 419h0M422 437h0M422 439h0M422 450h0M422 456h0M423 421h0M423 430h0M423 446h0M423 447h0M424 408h0M424 442h0M424 444h0M424 449h0M424 452h0M424 456h0M425 402h0M425 412h0M425 420h0M425 426h0M425 429h0M425 432h0M425 445h0M426 409h0M426 417h0M426 427h0M426 432h0M426 444h0M426 446h0M426 451h0M427 412h0M427 427h0M427 440h0M427 444h0M427 450h0M428 410h0M428 413h0M428 416h0M428 422h0M428 423h0M428 429h0M428 430h0M428 440h0M428 441h0M428 443h0M428 444h0M428 447h0M428 452h0M429 408h0M429 416h0M429 417h0M429 418h0M429 424h0M429 437h0M429 439h0M429 449h0M429 452h0M430 408h0M430 417h0M430 425h0M430 430h0M430 435h0M430 438h0M431 401h0M431 411h0M431 437h0M431 442h0M431 444h0M432 406h0M432 410h0M432 415h0M432 417h0M432 428h0M432 440h0M432 442h0M432 444h0M432 446h0M432 452h0M433 408h0M433 413h0M433 414h0M433 426h0M433 427h0M433 443h0M433 446h0M434 408h0M434 415h0M434 423h0M434 424h0M434 425h0M434 427h0M434 444h0M435 414h0M435 417h0M435 418h0M435 423h0M435 436h0M435 437h0M435 440h0M435 446h0M435 447h0M435 452h0M435 455h0M436 400h0M436 411h0M436 415h0M436 421h0M436 429h0M436 442h0M436 444h0M436 449h0M436 450h0M436 452h0M437 399h0M437 407h0M437 416h0M437 417h0M437 442h0M438 417h0M438 418h0M438 423h0M438 433h0M438 441h0M438 445h0M438 450h0M439 413h0M439 415h0M439 426h0M439 434h0M439 437h0M439 439h0M439 441h0M439 444h0M439 449h0M439 450h0M440 408h0M440 419h0M440 424h0M440 426h0M440 430h0M440 438h0M440 444h0M440 445h0M441 405h0M441 408h0M441 417h0M441 418h0M441 419h0M441 429h0M441 431h0M441 433h0M441 439h0M441 441h0M441 444h0M441 447h0M441 454h0M442 396h0M442 402h0M442 409h0M442 415h0M442 420h0M442 422h0M442 436h0M442 439h0M442 444h0M442 445h0M442 446h0M442 447h0M442 450h0M443 411h0M443 417h0M443 418h0M443 423h0M443 436h0M443 438h0M443 439h0M443 440h0M444 405h0M444 412h0M444 421h0M444 422h0M444 424h0M444 425h0M444 441h0M444 443h0M444 447h0M444 452h0M445 411h0M445 430h0M445 435h0M445 439h0M445 448h0M446 405h0M446 409h0M446 419h0M446 432h0M446 438h0M447 403h0M447 407h0M447 411h0M447 414h0M447 418h0M447 422h0M447 423h0M447 440h0M448 411h0M448 413h0M448 414h0M448 417h0M448 418h0M448 419h0M448 424h0M448 425h0M448 426h0M448 447h0M449 409h0M449 418h0M449 423h0M449 425h0M449 430h0M449 432h0M449 436h0M449 447h0M450 411h0M450 413h0M450 422h0M450 426h0M450 440h0M450 443h0M450 446h0M450 450h0M450 451h0M451 429h0M451 433h0M452 400h0M452 404h0M452 414h0M452 427h0M452 433h0M452 437h0M452 443h0M452 447h0M452 450h0M453 423h0M453 425h0M453 431h0M453 433h0M453 439h0M453 442h0M453 445h0M454 404h0M454 416h0M454 418h0M454 445h0M454 446h0M455 403h0M455 409h0M455 412h0M455 419h0M455 439h0M455 440h0M455 442h0M456 398h0M456 409h0M456 416h0M456 428h0M456 436h0M456 447h0M456 451h0M457 391h0M457 405h0M457 408h0M457 412h0M457 415h0M457 419h0M457 420h0M457 425h0M457 426h0M457 427h0M457 437h0M457 444h0M458 403h0M458 407h0M458 409h0M458 410h0M458 413h0M458 425h0M458 429h0M458 437h0M458 446h0M459 398h0M459 403h0M459 406h0M459 408h0M459 426h0M459 427h0M459 442h0M460 400h0M460 414h0M460 422h0M460 424h0M460 427h0M460 439h0M460 443h0M461 400h0M461 406h0M461 407h0M461 423h0M461 424h0M461 431h0M461 449h0M462 399h0M462 400h0M462 403h0M462 409h0M462 418h0M462 427h0M462 430h0M462 431h0M462 439h0M462 448h0M463 398h0M463 409h0M463 411h0M463 432h0M463 440h0M463 448h0M464 394h0M464 415h0M464 432h0M464 435h0M464 440h0M464 443h0M464 447h0M465 402h0M465 408h0M465 416h0M465 420h0M465 444h0M466 402h0M466 403h0M466 424h0M466 429h0M466 432h0M466 447h0M467 397h0M467 403h0M467 413h0M467 424h0M467 426h0M467 430h0M467 431h0M467 435h0M467 438h0M467 439h0M468 400h0M468 404h0M468 415h0M468 421h0M468 431h0M468 437h0M468 442h0M468 443h0M469 403h0M469 420h0M469 421h0M469 425h0M469 445h0M470 401h0M470 408h0M470 427h0M470 432h0M470 439h0M470 447h0M470 449h0M471 409h0M471 414h0M471 442h0M471 444h0M472 406h0M472 417h0M472 418h0M472 419h0M472 423h0M472 428h0M472 451h0M473 403h0M473 407h0M473 417h0M473 420h0M473 442h0M473 443h0M473 445h0M474 411h0M474 424h0M474 427h0M474 436h0M474 446h0M475 404h0M475 411h0M475 412h0M475 422h0M475 423h0M475 433h0M475 446h0M476 394h0M476 403h0M476 415h0M476 432h0M476 439h0M476 449h0M477 412h0M477 414h0M477 416h0M477 417h0M477 420h0M477 422h0M477 423h0M477 425h0M477 428h0M477 435h0M477 437h0M477 446h0M477 447h0M478 396h0M478 418h0M478 419h0M478 425h0M478 432h0M478 444h0M478 445h0M479 404h0M479 406h0M479 415h0M479 419h0M479 423h0M479 425h0M479 428h0M479 429h0M479 430h0M479 440h0M479 442h0M480 398h0M480 403h0M480 407h0M480 412h0M480 422h0M480 439h0M480 443h0M480 446h0M481 413h0M481 424h0M481 428h0M481 429h0M481 430h0M481 438h0M482 403h0M482 413h0M482 415h0M482 416h0M482 420h0M482 432h0M482 437h0M482 439h0M482 441h0M482 443h0M483 402h0M483 404h0M483 413h0M483 415h0M483 416h0M483 417h0M483 422h0M483 429h0M483 431h0M483 433h0M483 439h0M483 442h0M484 399h0M484 412h0M484 413h0M484 415h0M484 418h0M484 421h0M484 429h0M484 431h0M484 437h0M484 442h0M485 398h0M485 405h0M485 415h0M485 423h0M485 427h0M485 429h0M485 433h0M486 402h0M486 414h0M486 415h0M486 421h0M486 423h0M486 424h0M486 431h0M486 437h0M486 440h0M486 446h0M486 448h0M487 405h0M487 418h0M487 421h0M487 432h0M488 411h0M488 416h0M488 417h0M488 419h0M488 420h0M488 430h0M488 435h0M488 436h0M488 442h0M489 401h0M489 405h0M489 406h0M489 409h0M489 413h0M489 416h0M489 417h0M489 425h0M489 433h0M489 434h0M489 443h0M490 402h0M490 403h0M490 404h0M490 418h0M490 420h0M490 423h0M490 424h0M490 425h0M490 426h0M490 436h0M490 441h0M490 444h0M491 397h0M491 404h0M491 406h0M491 408h0M491 412h0M491 413h0M491 414h0M491 424h0M491 429h0M491 432h0M491 445h0M492 404h0M492 408h0M492 411h0M492 413h0M492 420h0M492 422h0M492 424h0M492 444h0M493 396h0M493 405h0M493 414h0M493 419h0M493 425h0M493 428h0M493 433h0M493 434h0M493 436h0M493 442h0M494 420h0M494 440h0M495 404h0M495 405h0M495 417h0M495 419h0M495 432h0M496 401h0M496 425h0M497 404h0M497 413h0M497 415h0M497 421h0M497 422h0M497 429h0M497 436h0M497 442h0M498 402h0M498 406h0M498 412h0M498 415h0M498 420h0M498 424h0M498 437h0M498 440h0M499 394h0M499 409h0M499 418h0M499 419h0M499 423h0M499 431h0M499 437h0M499 438h0M499 443h0M500 409h0M500 426h0M500 429h0M500 439h0M500 441h0M501 405h0M501 410h0M501 416h0M501 423h0M501 426h0M501 428h0M501 434h0M501 435h0M502 401h0M502 404h0M502 411h0M502 424h0M502 428h0M502 429h0M502 434h0M502 437h0M502 440h0M502 441h0M503 410h0M503 412h0M503 414h0M503 422h0M503 423h0M503 435h0M503 439h0M503 445h0M504 400h0M504 406h0M504 409h0M504 414h0M504 418h0M504 419h0M504 421h0M504 429h0M504 431h0M504 435h0M505 419h0M505 421h0M505 428h0M505 429h0M505 432h0M505 437h0M506 403h0M506 406h0M506 412h0M506 426h0M506 428h0M506 431h0M506 432h0M506 435h0M506 446h0M507 418h0M507 422h0M507 424h0M507 439h0M507 440h0M508 420h0M508 421h0M508 423h0M508 434h0M509 404h0M509 406h0M509 416h0M509 417h0M509 438h0M510 403h0M510 412h0M510 429h0M510 441h0M511 400h0M511 424h0M511 435h0M511 436h0M511 443h0M512 394h0M512 395h0M512 422h0M512 430h0M512 432h0M513 407h0M513 412h0M513 418h0M513 419h0M513 434h0M514 403h0M514 414h0M514 422h0M514 424h0M514 433h0M514 440h0M515 402h0M515 403h0M515 433h0M516 407h0M516 419h0M516 433h0M516 441h0M517 406h0M517 440h0M518 396h0M518 398h0M518 404h0M518 416h0M518 430h0M518 434h0M519 403h0M519 413h0M519 416h0M519 418h0M519 420h0M519 434h0M520 403h0M520 408h0M520 425h0M521 406h0M521 414h0M521 437h0M522 400h0M522 417h0M522 419h0M522 425h0M523 401h0M523 402h0M523 403h0M523 407h0M523 414h0M523 416h0M523 417h0M523 418h0M523 429h0M523 430h0M524 393h0M524 404h0M524 418h0M524 424h0M524 426h0M524 429h0M524 431h0M524 433h0M524 438h0M525 410h0M525 416h0M525 417h0M525 422h0M525 425h0M525 428h0M525 430h0M525 431h0M525 432h0M525 441h0M526 408h0M526 418h0M526 427h0M526 437h0M526 441h0M527 403h0M527 405h0M527 406h0M527 407h0M527 422h0M527 427h0M527 431h0M527 432h0M527 436h0M528 405h0M528 408h0M528 409h0M528 412h0M528 417h0M528 420h0M528 429h0M528 434h0M528 438h0M529 414h0M529 416h0M529 423h0M529 424h0M529 427h0M529 428h0M529 432h0M529 435h0M530 407h0M530 408h0M530 424h0M530 428h0M530 431h0M530 432h0M530 433h0M530 436h0M530 440h0M531 408h0M531 420h0M531 421h0M531 422h0M532 413h0M532 414h0M532 417h0M532 419h0M532 421h0M532 425h0M532 432h0M532 437h0M533 407h0M533 409h0M533 417h0M533 422h0M533 423h0M533 427h0M533 428h0M534 401h0M534 409h0M534 412h0M534 413h0M534 414h0M534 421h0M534 428h0M534 434h0M534 439h0M535 404h0M535 411h0M535 412h0M535 418h0M535 420h0M535 422h0M535 425h0M535 427h0M535 434h0M535 438h0M536 403h0M536 410h0M536 412h0M536 417h0M536 420h0M536 428h0M536 432h0M537 401h0M537 418h0M537 421h0M537 423h0M537 424h0M537 425h0M537 428h0M537 431h0M537 432h0M537 433h0M538 416h0M538 417h0M538 419h0M538 423h0M538 424h0M538 425h0M538 432h0M538 435h0M538 438h0M539 408h0M539 411h0M539 421h0M539 425h0M539 429h0M539 433h0M539 437h0M540 406h0M540 408h0M540 410h0M540 417h0M540 428h0M540 429h0M540 431h0M540 441h0M541 398h0M541 420h0M541 425h0M541 427h0M541 432h0M542 403h0M542 404h0M542 412h0M542 414h0M542 415h0M542 417h0M542 418h0M542 421h0M542 424h0M542 426h0M542 430h0M542 436h0M542 440h0M543 398h0M543 405h0M543 406h0M543 411h0M543 412h0M543 413h0M543 422h0M543 423h0M543 425h0M543 426h0M543 431h0M543 432h0M543 433h0M543 435h0M543 436h0M544 398h0M544 404h0M544 414h0M544 426h0M544 431h0M544 434h0M545 408h0M545 410h0M545 414h0M545 417h0M545 424h0M545 425h0M545 427h0M545 432h0M546 393h0M546 396h0M546 403h0M546 404h0M546 417h0M546 420h0M546 426h0M546 427h0M546 428h0M546 438h0M547 397h0M547 407h0M547 410h0M547 420h0M547 423h0M547 424h0M547 425h0M547 427h0M547 434h0M547 435h0M548 402h0M548 403h0M548 406h0M548 413h0M548 417h0M548 419h0M548 422h0M548 424h0M548 428h0M548 435h0M549 403h0M549 411h0M549 431h0M550 408h0M550 409h0M550 428h0M550 429h0M550 436h0M551 399h0M551 410h0M551 424h0M551 426h0M551 428h0M551 429h0M551 430h0M551 435h0M552 420h0M552 431h0M553 412h0M553 421h0M553 423h0M553 425h0M553 426h0M553 429h0M553 430h0M553 436h0M554 404h0M554 405h0M554 407h0M554 408h0M554 411h0M554 415h0M554 417h0M554 431h0M554 433h0M555 412h0M555 415h0M555 416h0M555 422h0M555 425h0M556 399h0M556 403h0M556 408h0M556 414h0M556 421h0M556 422h0M556 426h0M556 427h0M556 429h0M556 433h0M556 440h0M557 397h0M557 405h0M557 411h0M557 425h0M557 427h0M557 428h0M557 430h0M558 405h0M558 413h0M558 415h0M558 417h0M558 425h0M558 430h0M559 393h0M559 410h0M559 412h0M559 426h0M559 432h0M559 436h0M560 403h0M560 412h0M560 425h0M560 429h0M560 430h0M561 400h0M561 408h0M561 412h0M561 429h0M561 431h0M561 432h0M562 402h0M562 416h0M562 421h0M562 425h0M562 428h0M562 433h0M562 435h0M563 396h0M563 402h0M563 405h0M563 406h0M563 409h0M563 417h0M563 422h0M563 428h0M563 433h0M563 434h0M564 401h0M564 409h0M564 410h0M564 413h0M564 417h0M564 420h0M564 421h0M564 423h0M564 426h0M564 428h0M565 412h0M565 414h0M565 415h0M565 416h0M565 421h0M565 425h0M566 399h0M566 406h0M566 407h0M566 410h0M566 411h0M566 412h0M566 413h0M566 415h0M566 419h0M566 422h0M566 428h0M566 429h0M566 430h0M567 403h0M567 413h0M567 416h0M567 429h0M567 432h0M568 407h0M568 408h0M568 418h0M568 419h0M568 425h0M568 428h0M568 434h0M569 402h0M569 408h0M569 409h0M569 411h0M569 413h0M569 419h0M569 420h0M569 422h0M570 403h0M570 409h0M570 411h0M570 414h0M570 415h0M570 420h0M570 426h0M570 431h0M571 401h0M571 410h0M571 413h0M571 416h0M571 418h0M571 419h0M571 420h0M571 423h0M571 424h0M571 427h0M572 405h0M572 406h0M572 414h0M572 419h0M572 423h0M572 425h0M572 432h0M573 394h0M573 404h0M573 407h0M573 410h0M573 413h0M573 416h0M573 420h0M573 425h0M573 436h0M574 403h0M574 414h0M574 424h0M574 426h0M574 432h0M575 416h0M575 417h0M575 418h0M575 419h0M575 422h0M575 424h0M575 427h0M575 429h0M576 400h0M576 403h0M576 405h0M576 409h0M576 419h0M576 427h0M576 429h0M576 430h0M576 431h0M577 400h0M577 403h0M577 407h0M577 409h0M577 411h0M577 415h0M577 426h0M577 427h0M577 429h0M577 430h0M578 394h0M578 416h0M578 419h0M578 426h0M579 401h0M579 408h0M579 412h0M579 422h0M579 425h0M579 427h0M580 397h0M580 402h0M580 408h0M580 409h0M580 412h0M580 415h0M580 423h0M580 427h0M581 403h0M581 408h0M581 413h0M581 417h0M581 419h0M581 421h0M581 429h0M581 430h0M582 391h0M582 406h0M582 407h0M582 410h0M582 412h0M582 413h0M582 415h0M582 429h0M582 431h0M583 392h0M583 400h0M583 405h0M583 411h0M583 416h0M583 419h0M583 429h0M583 431h0M584 409h0M584 411h0M584 413h0M584 417h0M584 419h0M584 425h0M584 434h0M585 402h0M585 407h0M585 413h0M585 417h0M585 418h0M585 419h0M586 409h0M586 411h0M586 412h0M586 415h0M586 425h0M586 431h0M587 402h0M587 405h0M587 406h0M587 412h0M587 417h0M587 419h0M587 423h0M587 429h0M588 421h0M588 422h0M588 425h0M588 427h0M589 392h0M589 404h0M589 409h0M589 415h0M589 425h0M589 426h0M590 400h0M590 402h0M590 405h0M590 413h0M590 418h0M590 421h0M590 423h0M590 431h0M591 398h0M591 409h0M591 416h0M591 417h0M591 421h0M591 429h0M592 400h0M592 408h0M592 409h0M592 417h0M592 418h0M592 421h0M592 422h0M592 425h0M593 413h0M593 420h0M593 424h0M593 426h0M593 429h0M594 402h0M594 403h0M594 413h0M594 416h0M594 419h0M594 427h0M594 430h0M595 411h0M595 416h0M595 421h0M595 430h0M596 408h0M596 417h0M596 427h0M597 401h0M597 406h0M597 410h0M597 422h0M598 396h0M598 399h0M598 412h0M598 421h0M598 428h0M599 397h0M599 407h0M599 411h0M599 417h0M599 423h0M599 425h0M599 431h0M600 402h0M600 417h0M600 423h0M600 425h0M601 409h0M601 422h0M601 423h0M601 425h0M602 399h0M602 415h0M602 418h0M602 419h0M602 427h0M603 401h0M603 402h0M603 406h0M603 415h0M603 420h0M603 421h0M604 397h0M604 403h0M604 405h0M604 406h0M604 418h0M604 421h0M605 425h0M605 429h0M606 405h0M606 410h0M606 412h0M606 413h0M606 415h0M607 398h0M607 412h0M607 425h0M608 417h0M608 430h0M609 423h0M610 414h0" fill="none" stroke="#000" stroke-width="5.20" stroke-linecap="round" transform="scale(0.25)"/>
<polygon points="151,73 188,59.5 211,62.5 219.5,75 206,96.5 180,114.5 141,114.5 129,107 130,99" fill="none" stroke="#1a1a1a" stroke-width="1.05"/>
<text x="193.4" y="77.6" font-size="9.9" text-anchor="start" fill="#1a1a1a">P1</text>
<rect x="99.5" y="3.5" width="123.0" height="111.0" fill="none" stroke="#333" stroke-width="1"/>
<line x1="104.5" y1="114.5" x2="104.5" y2="118.0" stroke="#333" stroke-width="1"/>
<line x1="96.0" y1="110.5" x2="99.5" y2="110.5" stroke="#333" stroke-width="1"/>
<line x1="109.5" y1="114.5" x2="109.5" y2="118.0" stroke="#333" stroke-width="1"/>
<line x1="96.0" y1="106.5" x2="99.5" y2="106.5" stroke="#333" stroke-width="1"/>
<line x1="114.5" y1="114.5" x2="114.5" y2="118.0" stroke="#333" stroke-width="1"/>
<line x1="96.0" y1="102.5" x2="99.5" y2="102.5" stroke="#333" stroke-width="1"/>
<line x1="118.5" y1="114.5" x2="118.5" y2="118.0" stroke="#333" stroke-width="1"/>
<line x1="96.0" y1="98.5" x2="99.5" y2="98.5" stroke="#333" stroke-width="1"/>
<line x1="123.5" y1="114.5" x2="123.5" y2="120.5" stroke="#333" stroke-width="1"/>
<line x1="93.5" y1="93.5" x2="99.5" y2="93.5" stroke="#333" stroke-width="1"/>
<line x1="128.5" y1="114.5" x2="128.5" y2="118.0" stroke="#333" stroke-width="1"/>
<line x1="96.0" y1="89.5" x2="99.5" y2="89.5" stroke="#333" stroke-width="1"/>
<line x1="132.5" y1="114.5" x2="132.5" y2="118.0" stroke="#333" stroke-width="1"/>
<line x1="96.0" y1="85.5" x2="99.5" y2="85.5" stroke="#333" stroke-width="1"/>
<line x1="137.5" y1="114.5" x2="137.5" y2="118.0" stroke="#333" stroke-width="1"/>
<line x1="96.0" y1="81.5" x2="99.5" y2="81.5" stroke="#333" stroke-width="1"/>
<line x1="142.5" y1="114.5" x2="142.5" y2="118.0" stroke="#333" stroke-width="1"/>
<line x1="96.0" y1="76.5" x2="99.5" y2="76.5" stroke="#333" stroke-width="1"/>
<line x1="146.5" y1="114.5" x2="146.5" y2="120.5" stroke="#333" stroke-width="1"/>
<line x1="93.5" y1="72.5" x2="99.5" y2="72.5" stroke="#333" stroke-width="1"/>
<line x1="151.5" y1="114.5" x2="151.5" y2="118.0" stroke="#333" stroke-width="1"/>
<line x1="96.0" y1="68.5" x2="99.5" y2="68.5" stroke="#333" stroke-width="1"/>
<line x1="156.5" y1="114.5" x2="156.5" y2="118.0" stroke="#333" stroke-width="1"/>
<line x1="96.0" y1="64.5" x2="99.5" y2="64.5" stroke="#333" stroke-width="1"/>
<line x1="161.5" y1="114.5" x2="161.5" y2="118.0" stroke="#333" stroke-width="1"/>
<line x1="96.0" y1="59.5" x2="99.5" y2="59.5" stroke="#333" stroke-width="1"/>
<line x1="165.5" y1="114.5" x2="165.5" y2="118.0" stroke="#333" stroke-width="1"/>
<line x1="96.0" y1="55.5" x2="99.5" y2="55.5" stroke="#333" stroke-width="1"/>
<line x1="170.5" y1="114.5" x2="170.5" y2="120.5" stroke="#333" stroke-width="1"/>
<line x1="93.5" y1="51.5" x2="99.5" y2="51.5" stroke="#333" stroke-width="1"/>
<line x1="175.5" y1="114.5" x2="175.5" y2="118.0" stroke="#333" stroke-width="1"/>
<line x1="96.0" y1="47.5" x2="99.5" y2="47.5" stroke="#333" stroke-width="1"/>
<line x1="179.5" y1="114.5" x2="179.5" y2="118.0" stroke="#333" stroke-width="1"/>
<line x1="96.0" y1="42.5" x2="99.5" y2="42.5" stroke="#333" stroke-width="1"/>
<line x1="184.5" y1="114.5" x2="184.5" y2="118.0" stroke="#333" stroke-width="1"/>
<line x1="96.0" y1="38.5" x2="99.5" y2="38.5" stroke="#333" stroke-width="1"/>
<line x1="189.5" y1="114.5" x2="189.5" y2="118.0" stroke="#333" stroke-width="1"/>
<line x1="96.0" y1="34.5" x2="99.5" y2="34.5" stroke="#333" stroke-width="1"/>
<line x1="193.5" y1="114.5" x2="193.5" y2="120.5" stroke="#333" stroke-width="1"/>
<line x1="93.5" y1="30.5" x2="99.5" y2="30.5" stroke="#333" stroke-width="1"/>
<line x1="198.5" y1="114.5" x2="198.5" y2="118.0" stroke="#333" stroke-width="1"/>
<line x1="96.0" y1="25.5" x2="99.5" y2="25.5" stroke="#333" stroke-width="1"/>
<line x1="203.5" y1="114.5" x2="203.5" y2="118.0" stroke="#333" stroke-width="1"/>
<line x1="96.0" y1="21.5" x2="99.5" y2="21.5" stroke="#333" stroke-width="1"/>
<line x1="207.5" y1="114.5" x2="207.5" y2="118.0" stroke="#333" stroke-width="1"/>
<line x1="96.0" y1="17.5" x2="99.5" y2="17.5" stroke="#333" stroke-width="1"/>
<line x1="212.5" y1="114.5" x2="212.5" y2="118.0" stroke="#333" stroke-width="1"/>
<line x1="96.0" y1="13.5" x2="99.5" y2="13.5" stroke="#333" stroke-width="1"/>
<line x1="217.5" y1="114.5" x2="217.5" y2="120.5" stroke="#333" stroke-width="1"/>
<line x1="93.5" y1="8.5" x2="99.5" y2="8.5" stroke="#333" stroke-width="1"/>
<line x1="221.5" y1="114.5" x2="221.5" y2="118.0" stroke="#333" stroke-width="1"/>
<line x1="96.0" y1="4.5" x2="99.5" y2="4.5" stroke="#333" stroke-width="1"/>
<text x="123.02499999999999" y="132.3" font-size="8.3" text-anchor="middle" fill="#222">50</text>
<text x="93.6" y="93.38" font-size="8.3" text-anchor="middle" fill="#222" transform="rotate(-90 93.6 93.38)">50</text>
<text x="146.45" y="132.3" font-size="8.3" text-anchor="middle" fill="#222">100</text>
<text x="93.6" y="72.16" font-size="8.3" text-anchor="middle" fill="#222" transform="rotate(-90 93.6 72.16)">100</text>
<text x="169.875" y="132.3" font-size="8.3" text-anchor="middle" fill="#222">150</text>
<text x="93.6" y="50.94" font-size="8.3" text-anchor="middle" fill="#222" transform="rotate(-90 93.6 50.94)">150</text>
<text x="193.3" y="132.3" font-size="8.3" text-anchor="middle" fill="#222">200</text>
<text x="93.6" y="29.72" font-size="8.3" text-anchor="middle" fill="#222" transform="rotate(-90 93.6 29.72)">200</text>
<text x="216.725" y="132.3" font-size="8.3" text-anchor="middle" fill="#222">250</text>
<text x="93.6" y="8.5" font-size="8.3" text-anchor="middle" fill="#222" transform="rotate(-90 93.6 8.5)">250</text>
<text x="222" y="142.3" font-size="8.2" text-anchor="end" fill="#222">(x 1,000)</text>
<text x="77.8" y="20.2" font-size="8.4" text-anchor="middle" fill="#222" transform="rotate(-90 77.8 20.2)">(x 1,000)</text>
<text x="68.8" y="89" font-size="13.2" text-anchor="middle" fill="#000" transform="rotate(-90 68.8 89)">Side Scatter</text>
<text x="90.8" y="155.3" font-size="13.8" text-anchor="start" fill="#000">Forward Scatter</text>
<text x="-0.3" y="10.4" font-size="14.3" text-anchor="start" fill="#000" font-weight="bold">A</text>
<path d="M1269 380h0M1281 365h0M1284 407h0M1287 370h0M1291 412h0M1297 425h0M1302 409h0M1309 428h0M1314 370h0M1316 408h0M1322 396h0M1322 467h0M1326 397h0M1329 406h0M1331 412h0M1331 424h0M1331 445h0M1335 370h0M1335 405h0M1336 394h0M1338 379h0M1338 446h0M1339 406h0M1340 389h0M1341 416h0M1341 466h0M1348 368h0M1348 390h0M1349 354h0M1350 405h0M1352 389h0M1356 409h0M1357 430h0M1361 385h0M1367 392h0M1368 372h0M1379 412h0M1379 438h0M1388 463h0M1393 360h0M1395 379h0M1397 427h0M1397 439h0M1399 379h0M1400 407h0M1401 422h0M1402 413h0M1404 386h0M1413 385h0M1413 396h0M1422 434h0M1423 354h0M1424 455h0M1469 402h0M1481 404h0M1484 404h0" fill="none" stroke="#1a1a1a" stroke-width="5.20" stroke-linecap="round" transform="scale(0.25)"/>
<path d="M1259 285h0M1278 400h0M1279 428h0M1281 451h0M1288 409h0M1289 441h0M1294 461h0M1296 380h0M1297 429h0M1306 401h0M1307 379h0M1315 264h0M1315 271h0M1315 422h0M1315 456h0M1330 263h0M1330 417h0M1331 406h0M1333 430h0M1333 443h0M1336 381h0M1340 426h0M1347 341h0M1360 300h0M1360 381h0M1361 363h0M1361 433h0M1361 443h0M1362 394h0M1364 288h0M1365 389h0M1365 435h0M1366 436h0M1368 284h0M1368 394h0M1371 363h0M1379 412h0M1382 416h0M1383 370h0M1384 296h0M1384 391h0M1388 410h0M1396 435h0M1398 397h0M1403 419h0M1405 368h0M1405 416h0M1410 447h0M1412 378h0M1416 400h0M1423 259h0M1429 360h0M1430 366h0M1435 286h0M1435 372h0M1444 406h0M1451 401h0" fill="none" stroke="#555" stroke-width="5.20" stroke-linecap="round" transform="scale(0.25)"/>
<path d="M1525 391h0M1527 384h0M1528 384h0M1529 413h0M1532 361h0M1533 364h0M1534 367h0M1534 394h0M1535 380h0M1536 369h0M1536 384h0M1538 380h0M1539 393h0M1539 403h0M1540 413h0M1540 416h0M1541 352h0M1541 380h0M1541 389h0M1541 403h0M1542 353h0M1542 388h0M1543 358h0M1543 374h0M1543 380h0M1543 384h0M1543 403h0M1544 380h0M1544 386h0M1544 389h0M1544 395h0M1544 416h0M1545 356h0M1545 362h0M1545 367h0M1545 388h0M1545 391h0M1545 392h0M1545 396h0M1545 406h0M1545 425h0M1546 371h0M1546 374h0M1546 404h0M1546 413h0M1546 437h0M1547 349h0M1547 365h0M1547 374h0M1547 380h0M1547 385h0M1547 388h0M1547 391h0M1547 392h0M1547 401h0M1547 429h0M1548 369h0M1548 377h0M1548 382h0M1548 389h0M1548 392h0M1548 401h0M1548 430h0M1549 370h0M1549 371h0M1549 375h0M1549 382h0M1549 383h0M1549 385h0M1549 407h0M1549 414h0M1549 420h0M1549 428h0M1550 346h0M1550 363h0M1550 366h0M1550 368h0M1550 386h0M1550 391h0M1550 395h0M1550 400h0M1551 354h0M1551 366h0M1551 367h0M1551 371h0M1551 373h0M1551 374h0M1551 383h0M1551 386h0M1551 387h0M1551 388h0M1551 393h0M1551 414h0M1551 421h0M1552 364h0M1552 367h0M1552 376h0M1552 378h0M1552 380h0M1552 391h0M1552 392h0M1552 393h0M1552 395h0M1552 397h0M1553 339h0M1553 361h0M1553 380h0M1553 387h0M1553 389h0M1553 390h0M1553 399h0M1553 415h0M1554 339h0M1554 360h0M1554 378h0M1554 381h0M1554 382h0M1554 387h0M1554 394h0M1554 396h0M1554 402h0M1554 403h0M1554 406h0M1554 410h0M1554 434h0M1555 364h0M1555 376h0M1555 382h0M1555 386h0M1555 388h0M1555 392h0M1555 402h0M1555 418h0M1555 419h0M1556 340h0M1556 343h0M1556 354h0M1556 367h0M1556 370h0M1556 371h0M1556 373h0M1556 378h0M1556 380h0M1556 381h0M1556 382h0M1556 399h0M1556 406h0M1556 408h0M1556 413h0M1556 418h0M1557 362h0M1557 363h0M1557 366h0M1557 367h0M1557 373h0M1557 374h0M1557 376h0M1557 378h0M1557 382h0M1557 388h0M1557 390h0M1557 391h0M1557 400h0M1557 402h0M1557 414h0M1558 364h0M1558 366h0M1558 370h0M1558 385h0M1558 391h0M1558 396h0M1558 399h0M1558 400h0M1558 404h0M1559 364h0M1559 368h0M1559 376h0M1559 379h0M1559 380h0M1559 382h0M1559 387h0M1559 388h0M1559 390h0M1559 395h0M1559 401h0M1559 410h0M1560 363h0M1560 374h0M1560 376h0M1560 383h0M1560 385h0M1560 386h0M1560 390h0M1560 391h0M1560 393h0M1561 349h0M1561 383h0M1561 388h0M1561 391h0M1561 398h0M1561 403h0M1561 405h0M1561 414h0M1561 425h0M1562 350h0M1562 354h0M1562 369h0M1562 370h0M1562 373h0M1562 378h0M1562 382h0M1562 384h0M1562 392h0M1562 401h0M1562 416h0M1563 337h0M1563 347h0M1563 354h0M1563 356h0M1563 359h0M1563 362h0M1563 373h0M1563 378h0M1563 379h0M1563 383h0M1563 389h0M1563 390h0M1563 392h0M1563 393h0M1563 394h0M1563 395h0M1563 399h0M1563 403h0M1563 406h0M1563 412h0M1563 423h0M1564 354h0M1564 362h0M1564 369h0M1564 375h0M1564 378h0M1564 383h0M1564 385h0M1564 392h0M1564 398h0M1564 401h0M1565 356h0M1565 357h0M1565 368h0M1565 369h0M1565 373h0M1565 375h0M1565 379h0M1565 383h0M1565 389h0M1565 390h0M1565 394h0M1565 395h0M1565 396h0M1565 397h0M1565 402h0M1565 403h0M1565 405h0M1566 327h0M1566 344h0M1566 355h0M1566 374h0M1566 376h0M1566 382h0M1566 387h0M1566 389h0M1566 399h0M1566 401h0M1566 403h0M1566 404h0M1566 406h0M1566 430h0M1567 365h0M1567 372h0M1567 377h0M1567 380h0M1567 381h0M1567 382h0M1567 389h0M1567 391h0M1567 393h0M1567 396h0M1567 400h0M1567 407h0M1567 411h0M1567 414h0M1567 433h0M1568 361h0M1568 372h0M1568 374h0M1568 376h0M1568 379h0M1568 382h0M1568 384h0M1568 387h0M1568 388h0M1568 389h0M1568 391h0M1568 392h0M1568 394h0M1568 396h0M1568 403h0M1568 408h0M1568 409h0M1568 420h0M1568 434h0M1569 354h0M1569 365h0M1569 367h0M1569 371h0M1569 372h0M1569 379h0M1569 381h0M1569 382h0M1569 386h0M1569 390h0M1569 392h0M1569 393h0M1569 394h0M1569 398h0M1569 400h0M1569 402h0M1569 404h0M1569 425h0M1570 367h0M1570 369h0M1570 374h0M1570 376h0M1570 381h0M1570 382h0M1570 386h0M1570 388h0M1570 389h0M1570 401h0M1570 404h0M1570 405h0M1570 413h0M1570 418h0M1570 423h0M1571 361h0M1571 367h0M1571 369h0M1571 370h0M1571 372h0M1571 384h0M1571 387h0M1571 397h0M1571 398h0M1571 400h0M1571 401h0M1571 405h0M1571 408h0M1571 414h0M1571 417h0M1571 422h0M1572 358h0M1572 359h0M1572 376h0M1572 383h0M1572 384h0M1572 385h0M1572 387h0M1572 389h0M1572 397h0M1572 405h0M1572 407h0M1572 411h0M1572 422h0M1573 349h0M1573 353h0M1573 358h0M1573 363h0M1573 364h0M1573 369h0M1573 372h0M1573 376h0M1573 379h0M1573 380h0M1573 383h0M1573 393h0M1573 400h0M1573 401h0M1573 403h0M1573 405h0M1573 406h0M1574 358h0M1574 361h0M1574 366h0M1574 367h0M1574 372h0M1574 373h0M1574 375h0M1574 376h0M1574 381h0M1574 384h0M1574 387h0M1574 388h0M1574 394h0M1574 395h0M1574 399h0M1574 400h0M1574 405h0M1574 422h0M1574 425h0M1575 357h0M1575 364h0M1575 369h0M1575 375h0M1575 377h0M1575 378h0M1575 380h0M1575 381h0M1575 382h0M1575 384h0M1575 385h0M1575 386h0M1575 390h0M1575 395h0M1575 398h0M1575 402h0M1575 404h0M1575 405h0M1575 409h0M1575 410h0M1575 422h0M1575 428h0M1576 357h0M1576 358h0M1576 381h0M1576 387h0M1576 390h0M1576 391h0M1576 398h0M1576 400h0M1576 419h0M1577 364h0M1577 367h0M1577 374h0M1577 375h0M1577 383h0M1577 388h0M1577 397h0M1577 407h0M1577 417h0M1578 350h0M1578 363h0M1578 370h0M1578 372h0M1578 376h0M1578 379h0M1578 386h0M1578 388h0M1578 391h0M1578 395h0M1578 397h0M1578 401h0M1578 409h0M1578 412h0M1578 420h0M1578 430h0M1579 350h0M1579 365h0M1579 391h0M1579 396h0M1579 397h0M1579 404h0M1579 413h0M1580 369h0M1580 372h0M1580 374h0M1580 376h0M1580 381h0M1580 390h0M1580 394h0M1580 396h0M1580 400h0M1580 405h0M1580 407h0M1580 409h0M1581 371h0M1581 376h0M1581 377h0M1581 379h0M1581 388h0M1581 396h0M1581 402h0M1581 408h0M1581 409h0M1582 356h0M1582 372h0M1582 375h0M1582 380h0M1582 398h0M1582 409h0M1583 372h0M1583 374h0M1583 375h0M1583 378h0M1583 402h0M1583 408h0M1583 410h0M1583 414h0M1583 430h0M1583 436h0M1584 372h0M1584 375h0M1584 386h0M1584 396h0M1584 398h0M1584 404h0M1584 406h0M1584 412h0M1585 355h0M1585 375h0M1585 384h0M1585 389h0M1586 370h0M1586 371h0M1586 375h0M1586 384h0M1586 396h0M1586 399h0M1587 345h0M1587 364h0M1587 374h0M1587 389h0M1587 397h0M1587 413h0M1588 381h0M1588 384h0M1588 398h0M1588 406h0M1588 410h0M1589 372h0M1589 374h0M1589 377h0M1589 381h0M1589 387h0M1589 392h0M1589 401h0M1589 404h0M1589 407h0M1589 409h0M1589 410h0M1589 414h0M1589 425h0M1590 373h0M1590 392h0M1590 395h0M1590 400h0M1590 405h0M1590 410h0M1590 421h0M1591 358h0M1591 392h0M1591 411h0M1591 417h0M1592 393h0M1592 394h0M1592 396h0M1592 403h0M1593 404h0M1593 416h0M1594 336h0M1594 366h0M1594 388h0M1594 392h0M1595 392h0M1595 393h0M1595 405h0M1596 356h0M1596 388h0M1596 395h0M1596 406h0M1597 370h0M1597 371h0M1597 393h0M1597 398h0M1598 414h0M1598 437h0M1599 376h0M1599 386h0M1599 407h0M1599 409h0M1599 410h0M1600 368h0M1600 373h0M1600 403h0M1601 389h0M1601 398h0M1602 369h0M1607 393h0M1609 375h0M1612 378h0M1613 413h0M1614 395h0M1615 355h0M1617 398h0M1618 392h0" fill="none" stroke="#c9c9c9" stroke-width="5.20" stroke-linecap="round" transform="scale(0.25)"/>
<path d="M1503 306h0M1515 374h0M1517 397h0M1518 382h0M1519 310h0M1520 322h0M1523 358h0M1525 354h0M1528 360h0M1528 396h0M1529 291h0M1529 395h0M1530 315h0M1530 348h0M1530 352h0M1530 356h0M1534 361h0M1535 341h0M1535 385h0M1536 325h0M1536 357h0M1537 338h0M1537 348h0M1538 338h0M1539 347h0M1540 337h0M1542 341h0M1542 377h0M1542 446h0M1543 334h0M1544 371h0M1544 385h0M1545 365h0M1545 366h0M1545 409h0M1545 411h0M1545 428h0M1546 288h0M1546 324h0M1546 341h0M1547 311h0M1547 360h0M1548 370h0M1549 349h0M1549 385h0M1549 423h0M1550 335h0M1550 369h0M1550 389h0M1550 398h0M1551 338h0M1551 382h0M1552 354h0M1552 370h0M1553 318h0M1553 397h0M1553 411h0M1554 394h0M1554 419h0M1555 364h0M1555 391h0M1555 411h0M1556 296h0M1556 355h0M1556 358h0M1556 395h0M1556 421h0M1557 274h0M1557 367h0M1558 288h0M1558 353h0M1559 338h0M1559 391h0M1559 395h0M1560 381h0M1560 422h0M1561 263h0M1561 361h0M1561 370h0M1561 372h0M1561 405h0M1562 317h0M1562 346h0M1562 370h0M1562 449h0M1563 358h0M1563 366h0M1563 412h0M1564 413h0M1565 347h0M1565 405h0M1565 413h0M1566 334h0M1566 353h0M1566 374h0M1567 326h0M1567 352h0M1567 368h0M1567 374h0M1567 390h0M1567 437h0M1568 366h0M1568 385h0M1568 422h0M1569 354h0M1569 388h0M1569 442h0M1570 338h0M1570 394h0M1570 420h0M1571 358h0M1571 379h0M1571 382h0M1572 337h0M1572 344h0M1572 364h0M1573 330h0M1573 356h0M1573 365h0M1574 387h0M1574 413h0M1574 415h0M1575 311h0M1576 337h0M1576 389h0M1576 395h0M1577 348h0M1577 392h0M1577 421h0M1578 395h0M1579 309h0M1579 444h0M1581 306h0M1581 431h0M1582 413h0M1582 414h0M1583 359h0M1584 352h0M1584 359h0M1584 412h0M1585 344h0M1585 374h0M1586 387h0M1587 345h0M1587 355h0M1587 359h0M1587 425h0M1588 386h0M1589 397h0M1589 401h0M1592 324h0M1592 376h0M1592 396h0M1592 409h0M1592 419h0M1596 336h0M1596 415h0M1598 335h0M1598 367h0M1599 365h0M1602 364h0M1603 360h0M1603 378h0M1606 343h0M1606 379h0M1607 344h0M1611 406h0M1617 376h0M1618 433h0M1620 323h0" fill="none" stroke="#dadada" stroke-width="5.20" stroke-linecap="round" transform="scale(0.25)"/>
<path d="M1229 428h0M1230 445h0M1232 429h0M1233 432h0M1233 434h0M1238 439h0M1239 439h0M1240 429h0M1241 430h0M1241 436h0M1246 438h0M1247 430h0M1247 439h0M1247 440h0M1248 437h0M1249 433h0M1249 449h0M1250 432h0M1251 430h0M1251 431h0M1253 452h0M1254 444h0M1255 431h0M1256 434h0M1256 437h0M1257 426h0M1257 436h0M1257 442h0M1258 438h0M1258 439h0M1259 438h0M1260 434h0M1260 444h0M1260 445h0M1261 429h0M1261 442h0M1262 431h0M1262 435h0M1262 445h0M1263 434h0M1263 439h0M1264 450h0M1265 438h0M1265 442h0M1266 436h0M1266 437h0M1266 440h0M1266 442h0M1266 446h0M1267 432h0M1268 431h0M1268 437h0M1268 438h0M1268 439h0M1268 443h0M1268 449h0M1269 420h0M1269 431h0M1269 439h0M1269 450h0M1270 433h0M1270 439h0M1271 440h0M1272 431h0M1272 442h0M1272 450h0M1273 439h0M1273 440h0M1273 449h0M1274 437h0M1275 428h0M1275 430h0M1275 436h0M1275 437h0M1275 440h0M1276 427h0M1276 432h0M1276 442h0M1276 444h0M1277 429h0M1277 430h0M1278 425h0M1278 431h0M1278 437h0M1278 441h0M1279 434h0M1279 436h0M1279 437h0M1279 440h0M1279 441h0M1279 442h0M1279 447h0M1280 433h0M1281 429h0M1281 436h0M1281 439h0M1281 440h0M1281 445h0M1281 449h0M1281 453h0M1282 425h0M1282 434h0M1282 438h0M1282 440h0M1282 441h0M1283 434h0M1283 435h0M1283 436h0M1283 437h0M1283 438h0M1283 442h0M1283 445h0M1284 419h0M1284 441h0M1285 429h0M1285 435h0M1285 437h0M1285 439h0M1286 435h0M1286 436h0M1286 438h0M1286 440h0M1287 418h0M1287 429h0M1287 436h0M1287 438h0M1287 440h0M1287 443h0M1287 448h0M1287 450h0M1287 451h0M1288 436h0M1288 440h0M1288 441h0M1288 445h0M1288 448h0M1289 424h0M1289 435h0M1289 445h0M1290 437h0M1290 441h0M1290 448h0M1291 426h0M1291 427h0M1291 430h0M1291 438h0M1291 441h0M1291 442h0M1291 455h0M1292 433h0M1292 439h0M1292 440h0M1292 441h0M1292 443h0M1293 424h0M1293 433h0M1293 435h0M1293 438h0M1293 439h0M1294 426h0M1294 432h0M1294 436h0M1294 443h0M1295 428h0M1295 429h0M1295 432h0M1295 434h0M1295 440h0M1295 445h0M1295 446h0M1295 453h0M1296 425h0M1296 430h0M1296 436h0M1296 439h0M1296 440h0M1297 424h0M1297 432h0M1297 435h0M1297 436h0M1297 438h0M1297 440h0M1297 443h0M1298 431h0M1298 434h0M1298 436h0M1298 439h0M1298 440h0M1298 442h0M1298 451h0M1299 428h0M1299 429h0M1299 438h0M1299 444h0M1299 447h0M1300 417h0M1300 430h0M1300 432h0M1300 433h0M1300 439h0M1300 440h0M1300 441h0M1300 450h0M1301 424h0M1301 427h0M1301 437h0M1301 439h0M1301 443h0M1301 445h0M1302 433h0M1302 435h0M1302 441h0M1302 449h0M1303 438h0M1303 442h0M1303 443h0M1304 433h0M1304 435h0M1304 436h0M1304 437h0M1304 439h0M1304 442h0M1304 443h0M1304 446h0M1305 423h0M1305 430h0M1305 436h0M1305 439h0M1305 440h0M1305 445h0M1305 446h0M1305 448h0M1306 419h0M1306 428h0M1306 432h0M1306 435h0M1306 437h0M1306 438h0M1306 444h0M1306 445h0M1307 430h0M1307 433h0M1307 435h0M1307 439h0M1307 443h0M1307 445h0M1308 420h0M1308 431h0M1308 433h0M1308 435h0M1308 438h0M1308 440h0M1308 445h0M1308 446h0M1308 453h0M1309 424h0M1309 433h0M1309 435h0M1309 437h0M1309 440h0M1309 442h0M1309 444h0M1309 445h0M1309 448h0M1310 432h0M1310 434h0M1310 435h0M1310 436h0M1310 437h0M1310 438h0M1310 441h0M1310 443h0M1311 423h0M1311 426h0M1311 431h0M1311 435h0M1311 436h0M1311 438h0M1311 440h0M1311 446h0M1311 447h0M1312 425h0M1312 430h0M1312 432h0M1312 433h0M1312 434h0M1312 437h0M1312 442h0M1312 450h0M1313 426h0M1313 428h0M1313 430h0M1313 432h0M1313 433h0M1313 436h0M1313 437h0M1313 438h0M1313 445h0M1314 429h0M1314 431h0M1314 435h0M1314 436h0M1314 437h0M1314 440h0M1314 442h0M1314 444h0M1314 453h0M1315 437h0M1315 440h0M1315 442h0M1315 443h0M1316 429h0M1316 431h0M1316 433h0M1316 434h0M1316 436h0M1316 439h0M1316 440h0M1316 442h0M1316 443h0M1316 447h0M1316 449h0M1316 462h0M1317 426h0M1317 433h0M1317 434h0M1317 436h0M1317 439h0M1317 440h0M1317 441h0M1317 443h0M1317 447h0M1318 433h0M1318 434h0M1318 438h0M1318 440h0M1318 445h0M1318 453h0M1319 429h0M1319 432h0M1319 433h0M1319 434h0M1319 437h0M1319 442h0M1319 444h0M1319 445h0M1319 448h0M1320 429h0M1320 431h0M1320 434h0M1320 436h0M1320 437h0M1320 438h0M1320 442h0M1320 445h0M1321 426h0M1321 432h0M1321 439h0M1321 440h0M1321 443h0M1321 444h0M1322 426h0M1322 430h0M1322 433h0M1322 435h0M1322 440h0M1322 442h0M1322 443h0M1323 426h0M1323 427h0M1323 431h0M1323 434h0M1323 436h0M1323 442h0M1323 443h0M1324 421h0M1324 423h0M1324 425h0M1324 432h0M1324 436h0M1324 438h0M1324 442h0M1324 450h0M1325 423h0M1325 431h0M1325 433h0M1325 434h0M1325 436h0M1325 437h0M1325 440h0M1325 446h0M1325 449h0M1326 421h0M1326 429h0M1326 433h0M1326 436h0M1326 439h0M1326 440h0M1326 441h0M1326 443h0M1326 447h0M1327 428h0M1327 430h0M1327 436h0M1327 437h0M1327 438h0M1327 445h0M1327 452h0M1327 460h0M1328 428h0M1328 434h0M1328 436h0M1328 437h0M1328 439h0M1328 441h0M1328 445h0M1328 448h0M1329 420h0M1329 427h0M1329 430h0M1329 433h0M1329 435h0M1329 436h0M1329 437h0M1329 439h0M1329 440h0M1329 441h0M1329 442h0M1329 444h0M1329 446h0M1330 420h0M1330 425h0M1330 428h0M1330 429h0M1330 432h0M1330 434h0M1330 435h0M1330 436h0M1330 440h0M1330 442h0M1330 444h0M1331 420h0M1331 428h0M1331 430h0M1331 432h0M1331 433h0M1331 434h0M1331 436h0M1331 437h0M1331 438h0M1331 439h0M1331 441h0M1331 442h0M1331 447h0M1332 428h0M1332 432h0M1332 435h0M1332 436h0M1332 440h0M1332 442h0M1332 445h0M1332 447h0M1332 448h0M1333 421h0M1333 427h0M1333 431h0M1333 433h0M1333 434h0M1333 435h0M1333 436h0M1333 440h0M1333 441h0M1333 442h0M1333 445h0M1334 432h0M1334 434h0M1334 438h0M1334 439h0M1334 440h0M1334 442h0M1334 443h0M1334 447h0M1335 426h0M1335 432h0M1335 437h0M1335 439h0M1335 440h0M1335 442h0M1335 443h0M1335 444h0M1336 430h0M1336 433h0M1336 436h0M1336 437h0M1336 439h0M1336 440h0M1336 443h0M1336 444h0M1336 446h0M1337 428h0M1337 435h0M1337 437h0M1337 441h0M1337 443h0M1337 448h0M1338 431h0M1338 432h0M1338 433h0M1338 434h0M1338 435h0M1338 440h0M1338 444h0M1338 451h0M1339 424h0M1339 428h0M1339 432h0M1339 433h0M1339 434h0M1339 435h0M1339 442h0M1339 447h0M1340 423h0M1340 426h0M1340 428h0M1340 429h0M1340 430h0M1340 431h0M1340 438h0M1340 439h0M1340 441h0M1340 444h0M1340 453h0M1340 454h0M1341 430h0M1341 438h0M1341 442h0M1341 459h0M1342 423h0M1342 427h0M1342 429h0M1342 432h0M1342 433h0M1342 434h0M1342 435h0M1342 437h0M1342 439h0M1342 443h0M1342 447h0M1342 450h0M1343 427h0M1343 429h0M1343 430h0M1343 434h0M1343 436h0M1343 437h0M1343 438h0M1343 439h0M1343 441h0M1343 442h0M1343 449h0M1343 450h0M1344 433h0M1344 434h0M1344 436h0M1344 437h0M1344 438h0M1344 440h0M1344 445h0M1345 428h0M1345 438h0M1345 440h0M1345 443h0M1345 447h0M1345 453h0M1346 433h0M1346 435h0M1346 437h0M1346 445h0M1346 455h0M1347 430h0M1347 432h0M1347 433h0M1347 440h0M1347 442h0M1348 426h0M1348 432h0M1348 434h0M1348 438h0M1348 444h0M1348 446h0M1349 433h0M1349 436h0M1349 438h0M1349 439h0M1349 445h0M1349 447h0M1349 449h0M1350 426h0M1350 432h0M1350 433h0M1350 438h0M1350 447h0M1350 448h0M1351 427h0M1351 428h0M1351 435h0M1351 436h0M1351 439h0M1351 446h0M1352 418h0M1352 431h0M1352 435h0M1352 436h0M1352 440h0M1352 441h0M1352 447h0M1352 454h0M1353 431h0M1353 432h0M1353 433h0M1353 434h0M1353 437h0M1353 439h0M1353 440h0M1353 443h0M1353 447h0M1354 432h0M1354 434h0M1354 436h0M1354 437h0M1354 441h0M1355 427h0M1355 430h0M1355 431h0M1355 438h0M1355 439h0M1355 440h0M1356 431h0M1356 435h0M1356 436h0M1356 437h0M1356 438h0M1356 441h0M1356 442h0M1356 444h0M1357 428h0M1357 430h0M1357 431h0M1357 435h0M1357 436h0M1357 438h0M1357 440h0M1357 444h0M1357 447h0M1358 426h0M1358 432h0M1358 437h0M1358 442h0M1358 445h0M1358 447h0M1359 432h0M1359 441h0M1360 433h0M1360 437h0M1360 439h0M1360 441h0M1360 442h0M1360 444h0M1361 429h0M1361 437h0M1361 439h0M1361 440h0M1361 442h0M1361 444h0M1361 450h0M1362 428h0M1362 429h0M1362 435h0M1362 438h0M1362 440h0M1362 442h0M1362 449h0M1363 431h0M1363 432h0M1363 436h0M1363 437h0M1363 438h0M1363 439h0M1363 442h0M1363 444h0M1363 445h0M1364 424h0M1364 433h0M1364 435h0M1364 441h0M1365 429h0M1365 438h0M1365 439h0M1365 440h0M1365 441h0M1366 431h0M1366 441h0M1367 425h0M1367 435h0M1367 436h0M1367 438h0M1367 440h0M1367 443h0M1367 446h0M1368 423h0M1368 435h0M1368 437h0M1368 438h0M1368 440h0M1368 441h0M1368 446h0M1368 447h0M1369 426h0M1369 433h0M1369 434h0M1369 440h0M1369 441h0M1369 442h0M1370 425h0M1370 427h0M1370 431h0M1370 435h0M1370 440h0M1370 441h0M1371 429h0M1371 430h0M1371 433h0M1371 436h0M1371 437h0M1372 425h0M1372 431h0M1372 433h0M1372 439h0M1372 442h0M1372 443h0M1372 445h0M1373 430h0M1373 432h0M1373 433h0M1373 435h0M1373 436h0M1373 438h0M1374 430h0M1374 433h0M1374 439h0M1374 440h0M1374 441h0M1374 444h0M1375 435h0M1375 440h0M1375 441h0M1375 450h0M1376 429h0M1376 435h0M1376 441h0M1376 443h0M1376 444h0M1377 431h0M1377 439h0M1377 440h0M1377 443h0M1377 444h0M1378 427h0M1378 428h0M1378 431h0M1378 440h0M1378 441h0M1378 449h0M1380 428h0M1380 429h0M1380 432h0M1380 439h0M1380 447h0M1381 420h0M1381 423h0M1381 433h0M1381 435h0M1382 427h0M1382 430h0M1382 431h0M1382 435h0M1382 436h0M1382 438h0M1382 439h0M1382 440h0M1382 443h0M1383 431h0M1383 437h0M1383 439h0M1383 443h0M1383 445h0M1383 452h0M1384 423h0M1384 434h0M1384 440h0M1385 437h0M1385 438h0M1385 443h0M1385 446h0M1386 433h0M1386 438h0M1386 446h0M1387 437h0M1387 439h0M1388 436h0M1389 434h0M1389 441h0M1390 430h0M1391 435h0M1391 438h0M1391 442h0M1391 451h0M1393 432h0M1393 440h0M1394 420h0M1394 432h0M1394 440h0M1395 429h0M1395 439h0M1395 457h0M1396 437h0M1396 441h0M1398 430h0M1398 438h0M1399 430h0M1399 439h0M1399 440h0M1400 432h0M1401 441h0M1402 442h0M1403 424h0M1404 434h0M1405 436h0M1406 436h0M1407 438h0M1408 433h0M1408 442h0M1411 429h0M1411 431h0M1412 432h0M1412 435h0M1415 439h0M1417 426h0M1417 438h0M1419 440h0M1420 435h0M1423 433h0" fill="none" stroke="#000" stroke-width="5.20" stroke-linecap="round" transform="scale(0.25)"/>
<polygon points="374.2,73.4 406.9,64.6 426.5,69.2 429.5,88.5 423.8,106.2 404.6,116.5 379.2,113.1 372.3,86.9" fill="none" stroke="#1a1a1a" stroke-width="1.05"/>
<text x="407.3" y="81" font-size="9.5" text-anchor="start" fill="#1a1a1a">P2</text>
<rect x="305.5" y="7.5" width="125.0" height="111.0" fill="none" stroke="#333" stroke-width="1"/>
<line x1="307.5" y1="118.5" x2="307.5" y2="122.0" stroke="#333" stroke-width="1"/>
<line x1="311.5" y1="118.5" x2="311.5" y2="122.0" stroke="#333" stroke-width="1"/>
<line x1="314.5" y1="118.5" x2="314.5" y2="122.0" stroke="#333" stroke-width="1"/>
<line x1="317.5" y1="118.5" x2="317.5" y2="122.0" stroke="#333" stroke-width="1"/>
<line x1="319.5" y1="118.5" x2="319.5" y2="122.0" stroke="#333" stroke-width="1"/>
<line x1="321.5" y1="118.5" x2="321.5" y2="122.0" stroke="#333" stroke-width="1"/>
<line x1="322.5" y1="118.5" x2="322.5" y2="122.0" stroke="#333" stroke-width="1"/>
<line x1="324.5" y1="118.5" x2="324.5" y2="124.5" stroke="#333" stroke-width="1"/>
<line x1="333.5" y1="118.5" x2="333.5" y2="122.0" stroke="#333" stroke-width="1"/>
<line x1="339.5" y1="118.5" x2="339.5" y2="122.0" stroke="#333" stroke-width="1"/>
<line x1="342.5" y1="118.5" x2="342.5" y2="122.0" stroke="#333" stroke-width="1"/>
<line x1="345.5" y1="118.5" x2="345.5" y2="122.0" stroke="#333" stroke-width="1"/>
<line x1="348.5" y1="118.5" x2="348.5" y2="122.0" stroke="#333" stroke-width="1"/>
<line x1="350.5" y1="118.5" x2="350.5" y2="122.0" stroke="#333" stroke-width="1"/>
<line x1="352.5" y1="118.5" x2="352.5" y2="122.0" stroke="#333" stroke-width="1"/>
<line x1="353.5" y1="118.5" x2="353.5" y2="122.0" stroke="#333" stroke-width="1"/>
<line x1="355.5" y1="118.5" x2="355.5" y2="124.5" stroke="#333" stroke-width="1"/>
<line x1="364.5" y1="118.5" x2="364.5" y2="122.0" stroke="#333" stroke-width="1"/>
<line x1="370.5" y1="118.5" x2="370.5" y2="122.0" stroke="#333" stroke-width="1"/>
<line x1="374.5" y1="118.5" x2="374.5" y2="122.0" stroke="#333" stroke-width="1"/>
<line x1="377.5" y1="118.5" x2="377.5" y2="122.0" stroke="#333" stroke-width="1"/>
<line x1="379.5" y1="118.5" x2="379.5" y2="122.0" stroke="#333" stroke-width="1"/>
<line x1="381.5" y1="118.5" x2="381.5" y2="122.0" stroke="#333" stroke-width="1"/>
<line x1="383.5" y1="118.5" x2="383.5" y2="122.0" stroke="#333" stroke-width="1"/>
<line x1="385.5" y1="118.5" x2="385.5" y2="122.0" stroke="#333" stroke-width="1"/>
<line x1="386.5" y1="118.5" x2="386.5" y2="124.5" stroke="#333" stroke-width="1"/>
<line x1="396.5" y1="118.5" x2="396.5" y2="122.0" stroke="#333" stroke-width="1"/>
<line x1="401.5" y1="118.5" x2="401.5" y2="122.0" stroke="#333" stroke-width="1"/>
<line x1="405.5" y1="118.5" x2="405.5" y2="122.0" stroke="#333" stroke-width="1"/>
<line x1="408.5" y1="118.5" x2="408.5" y2="122.0" stroke="#333" stroke-width="1"/>
<line x1="411.5" y1="118.5" x2="411.5" y2="122.0" stroke="#333" stroke-width="1"/>
<line x1="413.5" y1="118.5" x2="413.5" y2="122.0" stroke="#333" stroke-width="1"/>
<line x1="414.5" y1="118.5" x2="414.5" y2="122.0" stroke="#333" stroke-width="1"/>
<line x1="416.5" y1="118.5" x2="416.5" y2="122.0" stroke="#333" stroke-width="1"/>
<line x1="418.5" y1="118.5" x2="418.5" y2="124.5" stroke="#333" stroke-width="1"/>
<line x1="427.5" y1="118.5" x2="427.5" y2="122.0" stroke="#333" stroke-width="1"/>
<line x1="302.0" y1="114.5" x2="305.5" y2="114.5" stroke="#333" stroke-width="1"/>
<line x1="302.0" y1="110.5" x2="305.5" y2="110.5" stroke="#333" stroke-width="1"/>
<line x1="302.0" y1="106.5" x2="305.5" y2="106.5" stroke="#333" stroke-width="1"/>
<line x1="302.0" y1="102.5" x2="305.5" y2="102.5" stroke="#333" stroke-width="1"/>
<line x1="299.5" y1="98.5" x2="305.5" y2="98.5" stroke="#333" stroke-width="1"/>
<line x1="302.0" y1="93.5" x2="305.5" y2="93.5" stroke="#333" stroke-width="1"/>
<line x1="302.0" y1="89.5" x2="305.5" y2="89.5" stroke="#333" stroke-width="1"/>
<line x1="302.0" y1="85.5" x2="305.5" y2="85.5" stroke="#333" stroke-width="1"/>
<line x1="302.0" y1="81.5" x2="305.5" y2="81.5" stroke="#333" stroke-width="1"/>
<line x1="299.5" y1="76.5" x2="305.5" y2="76.5" stroke="#333" stroke-width="1"/>
<line x1="302.0" y1="72.5" x2="305.5" y2="72.5" stroke="#333" stroke-width="1"/>
<line x1="302.0" y1="68.5" x2="305.5" y2="68.5" stroke="#333" stroke-width="1"/>
<line x1="302.0" y1="64.5" x2="305.5" y2="64.5" stroke="#333" stroke-width="1"/>
<line x1="302.0" y1="60.5" x2="305.5" y2="60.5" stroke="#333" stroke-width="1"/>
<line x1="299.5" y1="55.5" x2="305.5" y2="55.5" stroke="#333" stroke-width="1"/>
<line x1="302.0" y1="51.5" x2="305.5" y2="51.5" stroke="#333" stroke-width="1"/>
<line x1="302.0" y1="47.5" x2="305.5" y2="47.5" stroke="#333" stroke-width="1"/>
<line x1="302.0" y1="43.5" x2="305.5" y2="43.5" stroke="#333" stroke-width="1"/>
<line x1="302.0" y1="39.5" x2="305.5" y2="39.5" stroke="#333" stroke-width="1"/>
<line x1="299.5" y1="34.5" x2="305.5" y2="34.5" stroke="#333" stroke-width="1"/>
<line x1="302.0" y1="30.5" x2="305.5" y2="30.5" stroke="#333" stroke-width="1"/>
<line x1="302.0" y1="26.5" x2="305.5" y2="26.5" stroke="#333" stroke-width="1"/>
<line x1="302.0" y1="22.5" x2="305.5" y2="22.5" stroke="#333" stroke-width="1"/>
<line x1="302.0" y1="18.5" x2="305.5" y2="18.5" stroke="#333" stroke-width="1"/>
<line x1="299.5" y1="13.5" x2="305.5" y2="13.5" stroke="#333" stroke-width="1"/>
<line x1="302.0" y1="9.5" x2="305.5" y2="9.5" stroke="#333" stroke-width="1"/>
<text x="300.5" y="97.53999999999999" font-size="8.3" text-anchor="middle" fill="#222" transform="rotate(-90 300.5 97.53999999999999)">50</text>
<text x="300.5" y="76.47999999999999" font-size="8.3" text-anchor="middle" fill="#222" transform="rotate(-90 300.5 76.47999999999999)">100</text>
<text x="300.5" y="55.419999999999995" font-size="8.3" text-anchor="middle" fill="#222" transform="rotate(-90 300.5 55.419999999999995)">150</text>
<text x="300.5" y="34.359999999999985" font-size="8.3" text-anchor="middle" fill="#222" transform="rotate(-90 300.5 34.359999999999985)">200</text>
<text x="300.5" y="13.299999999999983" font-size="8.3" text-anchor="middle" fill="#222" transform="rotate(-90 300.5 13.299999999999983)">250</text>
<text x="321.6" y="136.2" font-size="8.2" text-anchor="middle" fill="#222">10</text>
<text x="328.2" y="131.2" font-size="6.5" text-anchor="middle" fill="#222">2</text>
<text x="352.9" y="136.2" font-size="8.2" text-anchor="middle" fill="#222">10</text>
<text x="359.5" y="131.2" font-size="6.5" text-anchor="middle" fill="#222">3</text>
<text x="384.2" y="136.2" font-size="8.2" text-anchor="middle" fill="#222">10</text>
<text x="390.8" y="131.2" font-size="6.5" text-anchor="middle" fill="#222">4</text>
<text x="415.5" y="136.2" font-size="8.2" text-anchor="middle" fill="#222">10</text>
<text x="422.1" y="131.2" font-size="6.5" text-anchor="middle" fill="#222">5</text>
<text x="282.6" y="25.3" font-size="8.4" text-anchor="middle" fill="#222" transform="rotate(-90 282.6 25.3)">(x 1,000)</text>
<text x="272.1" y="91.6" font-size="13.7" text-anchor="middle" fill="#000" transform="rotate(-90 272.1 91.6)">Side Scatter</text>
<text x="289.2" y="155.7" font-size="13.5" text-anchor="start" fill="#000">CD14</text>
<line x1="329.2" y1="153.9" x2="424.5" y2="153.9" stroke="#000" stroke-width="1.2"/>
<path d="M420.3 151.2 L425.6 153.9 L420.3 156.6" fill="none" stroke="#000" stroke-width="1.2"/>
<polygon points="39,278.5 39,278.5 39.7,278.25 40.4,278.02 41.1,277.9 41.8,277.58 42.5,277.23 43.2,276.47 43.9,276.25 44.6,274.96 45.3,273.21 46.0,270.29 46.7,269.32 47.4,267.26 48.1,266.59 48.8,265.01 49.5,259.57 50.2,259.37 50.9,256.26 51.6,254.41 52.3,250.9 53.0,254.98 53.7,252.91 54.4,243.45 55.1,234.89 55.8,247.11 56.5,240.25 57.2,234.01 57.9,234.32 58.6,230.11 59.3,227.38 60.0,216.98 60.7,218.55 61.4,214.33 62.1,219.57 62.8,203.93 63.5,192.54 64.2,194.38 64.9,197.09 65.6,205.59 66.3,196.47 67.0,199.59 67.7,207.27 68.4,223.4 69.1,214.87 69.8,218.74 70.5,219.08 71.2,214.92 71.9,227.15 72.6,227.75 73.3,225.81 74.0,241.13 74.7,245.89 75.4,252.41 76.1,265.92 76.8,270.02 77.5,270.71 78.2,271.1 78.9,273.45 79.6,272.93 80.3,273.24 81.0,272.56 81.7,274.22 82.4,273.81 83.1,274.6 83.8,274.63 84.5,274.47 85.2,274.87 85.9,275.05 86.6,275.49 87.3,275.97 88.0,275.54 88.7,275.69 89.4,276.3 90.1,276.61 90.8,276.45 91.5,276.74 92.2,276.92 92.9,276.97 93.6,277.34 94.3,277.46 95.0,277.5 95.7,277.82 96.4,277.97 97.1,278.2 97.8,278.43 98,278.5" fill="#e6e6e6" stroke="#cdcdcd" stroke-width="0.5"/>
<line x1="19.5" y1="190.4" x2="181.9" y2="190.4" stroke="#8a8a8a" stroke-width="1"/>
<line x1="181.9" y1="190.4" x2="181.9" y2="278.5" stroke="#8a8a8a" stroke-width="1"/>
<line x1="19.5" y1="190.4" x2="19.5" y2="278.5" stroke="#333" stroke-width="1"/>
<line x1="19.5" y1="278.5" x2="181.9" y2="278.5" stroke="#333" stroke-width="1"/>
<line x1="77.4" y1="190.4" x2="77.4" y2="278.5" stroke="#333" stroke-width="1"/>
<line x1="149.6" y1="190.4" x2="149.6" y2="278.5" stroke="#333" stroke-width="1"/>
<line x1="77.4" y1="235.1" x2="149.6" y2="235.1" stroke="#444" stroke-width="1.2"/>
<text x="76.9" y="183.7" font-size="14" text-anchor="start" fill="#000">No Stim</text>
<text x="140" y="220.1" font-size="13.6" text-anchor="end" fill="#111">10.1</text>
<text x="165.4" y="230.6" font-size="6.8" text-anchor="middle" fill="#555">P3</text>
<line x1="21.5" y1="278.5" x2="21.5" y2="280.5" stroke="#333" stroke-width="0.9"/>
<line x1="26.5" y1="278.5" x2="26.5" y2="280.5" stroke="#333" stroke-width="0.9"/>
<line x1="30.5" y1="278.5" x2="30.5" y2="280.5" stroke="#333" stroke-width="0.9"/>
<line x1="33.5" y1="278.5" x2="33.5" y2="280.5" stroke="#333" stroke-width="0.9"/>
<line x1="36.5" y1="278.5" x2="36.5" y2="280.5" stroke="#333" stroke-width="0.9"/>
<line x1="38.5" y1="278.5" x2="38.5" y2="280.5" stroke="#333" stroke-width="0.9"/>
<line x1="40.5" y1="278.5" x2="40.5" y2="280.5" stroke="#333" stroke-width="0.9"/>
<line x1="42.5" y1="278.5" x2="42.5" y2="282.5" stroke="#333" stroke-width="0.9"/>
<line x1="54.5" y1="278.5" x2="54.5" y2="280.5" stroke="#333" stroke-width="0.9"/>
<line x1="61.5" y1="278.5" x2="61.5" y2="280.5" stroke="#333" stroke-width="0.9"/>
<line x1="66.5" y1="278.5" x2="66.5" y2="280.5" stroke="#333" stroke-width="0.9"/>
<line x1="70.5" y1="278.5" x2="70.5" y2="280.5" stroke="#333" stroke-width="0.9"/>
<line x1="73.5" y1="278.5" x2="73.5" y2="280.5" stroke="#333" stroke-width="0.9"/>
<line x1="76.5" y1="278.5" x2="76.5" y2="280.5" stroke="#333" stroke-width="0.9"/>
<line x1="78.5" y1="278.5" x2="78.5" y2="280.5" stroke="#333" stroke-width="0.9"/>
<line x1="81.5" y1="278.5" x2="81.5" y2="280.5" stroke="#333" stroke-width="0.9"/>
<line x1="82.5" y1="278.5" x2="82.5" y2="282.5" stroke="#333" stroke-width="0.9"/>
<line x1="95.5" y1="278.5" x2="95.5" y2="280.5" stroke="#333" stroke-width="0.9"/>
<line x1="102.5" y1="278.5" x2="102.5" y2="280.5" stroke="#333" stroke-width="0.9"/>
<line x1="107.5" y1="278.5" x2="107.5" y2="280.5" stroke="#333" stroke-width="0.9"/>
<line x1="111.5" y1="278.5" x2="111.5" y2="280.5" stroke="#333" stroke-width="0.9"/>
<line x1="114.5" y1="278.5" x2="114.5" y2="280.5" stroke="#333" stroke-width="0.9"/>
<line x1="117.5" y1="278.5" x2="117.5" y2="280.5" stroke="#333" stroke-width="0.9"/>
<line x1="119.5" y1="278.5" x2="119.5" y2="280.5" stroke="#333" stroke-width="0.9"/>
<line x1="121.5" y1="278.5" x2="121.5" y2="280.5" stroke="#333" stroke-width="0.9"/>
<line x1="123.5" y1="278.5" x2="123.5" y2="282.5" stroke="#333" stroke-width="0.9"/>
<line x1="135.5" y1="278.5" x2="135.5" y2="280.5" stroke="#333" stroke-width="0.9"/>
<line x1="142.5" y1="278.5" x2="142.5" y2="280.5" stroke="#333" stroke-width="0.9"/>
<line x1="147.5" y1="278.5" x2="147.5" y2="280.5" stroke="#333" stroke-width="0.9"/>
<line x1="151.5" y1="278.5" x2="151.5" y2="280.5" stroke="#333" stroke-width="0.9"/>
<line x1="154.5" y1="278.5" x2="154.5" y2="280.5" stroke="#333" stroke-width="0.9"/>
<line x1="157.5" y1="278.5" x2="157.5" y2="280.5" stroke="#333" stroke-width="0.9"/>
<line x1="159.5" y1="278.5" x2="159.5" y2="280.5" stroke="#333" stroke-width="0.9"/>
<line x1="161.5" y1="278.5" x2="161.5" y2="280.5" stroke="#333" stroke-width="0.9"/>
<line x1="163.5" y1="278.5" x2="163.5" y2="282.5" stroke="#333" stroke-width="0.9"/>
<line x1="175.5" y1="278.5" x2="175.5" y2="280.5" stroke="#333" stroke-width="0.9"/>
<text x="40.5" y="291.2" font-size="7.8" text-anchor="middle" fill="#222">10</text>
<text x="46.7" y="287.3" font-size="6.2" text-anchor="middle" fill="#222">2</text>
<text x="80.9" y="291.2" font-size="7.8" text-anchor="middle" fill="#222">10</text>
<text x="87.1" y="287.3" font-size="6.2" text-anchor="middle" fill="#222">3</text>
<text x="121.3" y="291.2" font-size="7.8" text-anchor="middle" fill="#222">10</text>
<text x="127.5" y="287.3" font-size="6.2" text-anchor="middle" fill="#222">4</text>
<text x="161.7" y="291.2" font-size="7.8" text-anchor="middle" fill="#222">10</text>
<text x="167.9" y="287.3" font-size="6.2" text-anchor="middle" fill="#222">5</text>
<line x1="17.5" y1="276.0" x2="19.5" y2="276.0" stroke="#444" stroke-width="0.8"/>
<line x1="17.5" y1="273.5" x2="19.5" y2="273.5" stroke="#444" stroke-width="0.8"/>
<line x1="17.5" y1="271.0" x2="19.5" y2="271.0" stroke="#444" stroke-width="0.8"/>
<line x1="17.5" y1="268.5" x2="19.5" y2="268.5" stroke="#444" stroke-width="0.8"/>
<line x1="16.3" y1="266.0" x2="19.5" y2="266.0" stroke="#444" stroke-width="0.8"/>
<line x1="17.5" y1="263.5" x2="19.5" y2="263.5" stroke="#444" stroke-width="0.8"/>
<line x1="17.5" y1="261.0" x2="19.5" y2="261.0" stroke="#444" stroke-width="0.8"/>
<line x1="17.5" y1="258.5" x2="19.5" y2="258.5" stroke="#444" stroke-width="0.8"/>
<line x1="17.5" y1="255.5" x2="19.5" y2="255.5" stroke="#444" stroke-width="0.8"/>
<line x1="16.3" y1="253.0" x2="19.5" y2="253.0" stroke="#444" stroke-width="0.8"/>
<line x1="17.5" y1="250.5" x2="19.5" y2="250.5" stroke="#444" stroke-width="0.8"/>
<line x1="17.5" y1="248.0" x2="19.5" y2="248.0" stroke="#444" stroke-width="0.8"/>
<line x1="17.5" y1="245.5" x2="19.5" y2="245.5" stroke="#444" stroke-width="0.8"/>
<line x1="17.5" y1="243.0" x2="19.5" y2="243.0" stroke="#444" stroke-width="0.8"/>
<line x1="16.3" y1="240.5" x2="19.5" y2="240.5" stroke="#444" stroke-width="0.8"/>
<line x1="17.5" y1="238.0" x2="19.5" y2="238.0" stroke="#444" stroke-width="0.8"/>
<line x1="17.5" y1="235.5" x2="19.5" y2="235.5" stroke="#444" stroke-width="0.8"/>
<line x1="17.5" y1="233.0" x2="19.5" y2="233.0" stroke="#444" stroke-width="0.8"/>
<line x1="17.5" y1="230.5" x2="19.5" y2="230.5" stroke="#444" stroke-width="0.8"/>
<line x1="16.3" y1="228.0" x2="19.5" y2="228.0" stroke="#444" stroke-width="0.8"/>
<line x1="17.5" y1="225.5" x2="19.5" y2="225.5" stroke="#444" stroke-width="0.8"/>
<line x1="17.5" y1="223.0" x2="19.5" y2="223.0" stroke="#444" stroke-width="0.8"/>
<line x1="17.5" y1="220.5" x2="19.5" y2="220.5" stroke="#444" stroke-width="0.8"/>
<line x1="17.5" y1="218.0" x2="19.5" y2="218.0" stroke="#444" stroke-width="0.8"/>
<line x1="16.3" y1="215.0" x2="19.5" y2="215.0" stroke="#444" stroke-width="0.8"/>
<line x1="17.5" y1="212.5" x2="19.5" y2="212.5" stroke="#444" stroke-width="0.8"/>
<line x1="17.5" y1="210.0" x2="19.5" y2="210.0" stroke="#444" stroke-width="0.8"/>
<line x1="17.5" y1="207.5" x2="19.5" y2="207.5" stroke="#444" stroke-width="0.8"/>
<line x1="17.5" y1="205.0" x2="19.5" y2="205.0" stroke="#444" stroke-width="0.8"/>
<line x1="16.3" y1="202.5" x2="19.5" y2="202.5" stroke="#444" stroke-width="0.8"/>
<line x1="17.5" y1="200.0" x2="19.5" y2="200.0" stroke="#444" stroke-width="0.8"/>
<line x1="17.5" y1="197.5" x2="19.5" y2="197.5" stroke="#444" stroke-width="0.8"/>
<line x1="17.5" y1="195.0" x2="19.5" y2="195.0" stroke="#444" stroke-width="0.8"/>
<line x1="17.5" y1="192.5" x2="19.5" y2="192.5" stroke="#444" stroke-width="0.8"/>
<text x="14.6" y="278.5" font-size="6.3" text-anchor="middle" fill="#333" transform="rotate(-90 14.6 278.5)">0</text>
<text x="14.6" y="265.85" font-size="6.3" text-anchor="middle" fill="#333" transform="rotate(-90 14.6 265.85)">10</text>
<text x="14.6" y="253.2" font-size="6.3" text-anchor="middle" fill="#333" transform="rotate(-90 14.6 253.2)">20</text>
<text x="14.6" y="240.55" font-size="6.3" text-anchor="middle" fill="#333" transform="rotate(-90 14.6 240.55)">30</text>
<text x="14.6" y="227.9" font-size="6.3" text-anchor="middle" fill="#333" transform="rotate(-90 14.6 227.9)">40</text>
<text x="14.6" y="215.25" font-size="6.3" text-anchor="middle" fill="#333" transform="rotate(-90 14.6 215.25)">50</text>
<text x="14.6" y="202.60000000000002" font-size="6.3" text-anchor="middle" fill="#333" transform="rotate(-90 14.6 202.60000000000002)">60</text>
<text x="5" y="233" font-size="6" text-anchor="middle" fill="#444" transform="rotate(-90 5 233)">Count</text>
<polygon points="219,277.2 219,277.2 219.7,276.97 220.4,276.64 221.1,276.53 221.8,276.39 222.5,275.79 223.2,275.27 223.9,274.62 224.6,274.35 225.3,273.26 226.0,272.98 226.7,271.01 227.4,270.84 228.1,269.97 228.8,268.07 229.5,267.37 230.2,267.78 230.9,265.23 231.6,265.3 232.3,258.13 233.0,256.69 233.7,250.21 234.4,248.91 235.1,241.47 235.8,233.41 236.5,230.24 237.2,234.03 237.9,234.0 238.6,221.28 239.3,225.17 240.0,222.84 240.7,211.89 241.4,219.31 242.1,202.54 242.8,196.03 243.5,198.42 244.2,200.63 244.9,196.8 245.6,189.7 246.3,196.27 247.0,189.7 247.7,192.29 248.4,194.08 249.1,196.55 249.8,203.42 250.5,208.76 251.2,212.29 251.9,216.16 252.6,227.16 253.3,234.81 254.0,237.67 254.7,242.14 255.4,249.03 256.1,246.41 256.8,252.25 257.5,250.53 258.2,259.01 258.9,263.14 259.6,263.62 260.3,266.88 261.0,267.55 261.7,269.52 262.4,269.95 263.1,272.6 263.8,272.9 264.5,273.83 265.2,274.52 265.9,275.41 266.6,275.72 267.3,276.6 268.0,277.2 268,277.2" fill="#e6e6e6" stroke="#cdcdcd" stroke-width="0.5"/>
<line x1="187.5" y1="189.2" x2="348.6" y2="189.2" stroke="#8a8a8a" stroke-width="1"/>
<line x1="348.6" y1="189.2" x2="348.6" y2="277.2" stroke="#8a8a8a" stroke-width="1"/>
<line x1="187.5" y1="189.2" x2="187.5" y2="277.2" stroke="#333" stroke-width="1"/>
<line x1="187.5" y1="277.2" x2="348.6" y2="277.2" stroke="#333" stroke-width="1"/>
<line x1="244.7" y1="189.2" x2="244.7" y2="277.2" stroke="#333" stroke-width="1"/>
<line x1="317.4" y1="189.2" x2="317.4" y2="277.2" stroke="#333" stroke-width="1"/>
<line x1="244.7" y1="233.2" x2="317.4" y2="233.2" stroke="#444" stroke-width="1.2"/>
<text x="232.6" y="183.7" font-size="14" text-anchor="start" fill="#000">LPS</text>
<text x="311.5" y="219.9" font-size="13.6" text-anchor="end" fill="#111">57.7</text>
<text x="333" y="229.3" font-size="6.8" text-anchor="middle" fill="#555">P3</text>
<line x1="189.5" y1="277.2" x2="189.5" y2="279.2" stroke="#333" stroke-width="0.9"/>
<line x1="194.5" y1="277.2" x2="194.5" y2="279.2" stroke="#333" stroke-width="0.9"/>
<line x1="198.5" y1="277.2" x2="198.5" y2="279.2" stroke="#333" stroke-width="0.9"/>
<line x1="201.5" y1="277.2" x2="201.5" y2="279.2" stroke="#333" stroke-width="0.9"/>
<line x1="204.5" y1="277.2" x2="204.5" y2="279.2" stroke="#333" stroke-width="0.9"/>
<line x1="206.5" y1="277.2" x2="206.5" y2="279.2" stroke="#333" stroke-width="0.9"/>
<line x1="208.5" y1="277.2" x2="208.5" y2="279.2" stroke="#333" stroke-width="0.9"/>
<line x1="210.5" y1="277.2" x2="210.5" y2="281.2" stroke="#333" stroke-width="0.9"/>
<line x1="222.5" y1="277.2" x2="222.5" y2="279.2" stroke="#333" stroke-width="0.9"/>
<line x1="229.5" y1="277.2" x2="229.5" y2="279.2" stroke="#333" stroke-width="0.9"/>
<line x1="234.5" y1="277.2" x2="234.5" y2="279.2" stroke="#333" stroke-width="0.9"/>
<line x1="238.5" y1="277.2" x2="238.5" y2="279.2" stroke="#333" stroke-width="0.9"/>
<line x1="241.5" y1="277.2" x2="241.5" y2="279.2" stroke="#333" stroke-width="0.9"/>
<line x1="244.5" y1="277.2" x2="244.5" y2="279.2" stroke="#333" stroke-width="0.9"/>
<line x1="246.5" y1="277.2" x2="246.5" y2="279.2" stroke="#333" stroke-width="0.9"/>
<line x1="249.5" y1="277.2" x2="249.5" y2="279.2" stroke="#333" stroke-width="0.9"/>
<line x1="250.5" y1="277.2" x2="250.5" y2="281.2" stroke="#333" stroke-width="0.9"/>
<line x1="263.5" y1="277.2" x2="263.5" y2="279.2" stroke="#333" stroke-width="0.9"/>
<line x1="270.5" y1="277.2" x2="270.5" y2="279.2" stroke="#333" stroke-width="0.9"/>
<line x1="275.5" y1="277.2" x2="275.5" y2="279.2" stroke="#333" stroke-width="0.9"/>
<line x1="279.5" y1="277.2" x2="279.5" y2="279.2" stroke="#333" stroke-width="0.9"/>
<line x1="282.5" y1="277.2" x2="282.5" y2="279.2" stroke="#333" stroke-width="0.9"/>
<line x1="285.5" y1="277.2" x2="285.5" y2="279.2" stroke="#333" stroke-width="0.9"/>
<line x1="287.5" y1="277.2" x2="287.5" y2="279.2" stroke="#333" stroke-width="0.9"/>
<line x1="289.5" y1="277.2" x2="289.5" y2="279.2" stroke="#333" stroke-width="0.9"/>
<line x1="291.5" y1="277.2" x2="291.5" y2="281.2" stroke="#333" stroke-width="0.9"/>
<line x1="303.5" y1="277.2" x2="303.5" y2="279.2" stroke="#333" stroke-width="0.9"/>
<line x1="310.5" y1="277.2" x2="310.5" y2="279.2" stroke="#333" stroke-width="0.9"/>
<line x1="315.5" y1="277.2" x2="315.5" y2="279.2" stroke="#333" stroke-width="0.9"/>
<line x1="319.5" y1="277.2" x2="319.5" y2="279.2" stroke="#333" stroke-width="0.9"/>
<line x1="322.5" y1="277.2" x2="322.5" y2="279.2" stroke="#333" stroke-width="0.9"/>
<line x1="325.5" y1="277.2" x2="325.5" y2="279.2" stroke="#333" stroke-width="0.9"/>
<line x1="327.5" y1="277.2" x2="327.5" y2="279.2" stroke="#333" stroke-width="0.9"/>
<line x1="329.5" y1="277.2" x2="329.5" y2="279.2" stroke="#333" stroke-width="0.9"/>
<line x1="331.5" y1="277.2" x2="331.5" y2="281.2" stroke="#333" stroke-width="0.9"/>
<line x1="343.5" y1="277.2" x2="343.5" y2="279.2" stroke="#333" stroke-width="0.9"/>
<text x="208.5" y="291.2" font-size="7.8" text-anchor="middle" fill="#222">10</text>
<text x="214.7" y="287.3" font-size="6.2" text-anchor="middle" fill="#222">2</text>
<text x="248.9" y="291.2" font-size="7.8" text-anchor="middle" fill="#222">10</text>
<text x="255.1" y="287.3" font-size="6.2" text-anchor="middle" fill="#222">3</text>
<text x="289.3" y="291.2" font-size="7.8" text-anchor="middle" fill="#222">10</text>
<text x="295.5" y="287.3" font-size="6.2" text-anchor="middle" fill="#222">4</text>
<text x="329.7" y="291.2" font-size="7.8" text-anchor="middle" fill="#222">10</text>
<text x="335.9" y="287.3" font-size="6.2" text-anchor="middle" fill="#222">5</text>
<line x1="185.5" y1="274.5" x2="187.5" y2="274.5" stroke="#444" stroke-width="0.8"/>
<line x1="185.5" y1="272.0" x2="187.5" y2="272.0" stroke="#444" stroke-width="0.8"/>
<line x1="185.5" y1="269.5" x2="187.5" y2="269.5" stroke="#444" stroke-width="0.8"/>
<line x1="185.5" y1="267.0" x2="187.5" y2="267.0" stroke="#444" stroke-width="0.8"/>
<line x1="184.3" y1="264.5" x2="187.5" y2="264.5" stroke="#444" stroke-width="0.8"/>
<line x1="185.5" y1="262.0" x2="187.5" y2="262.0" stroke="#444" stroke-width="0.8"/>
<line x1="185.5" y1="259.5" x2="187.5" y2="259.5" stroke="#444" stroke-width="0.8"/>
<line x1="185.5" y1="257.0" x2="187.5" y2="257.0" stroke="#444" stroke-width="0.8"/>
<line x1="185.5" y1="254.5" x2="187.5" y2="254.5" stroke="#444" stroke-width="0.8"/>
<line x1="184.3" y1="252.0" x2="187.5" y2="252.0" stroke="#444" stroke-width="0.8"/>
<line x1="185.5" y1="249.5" x2="187.5" y2="249.5" stroke="#444" stroke-width="0.8"/>
<line x1="185.5" y1="247.0" x2="187.5" y2="247.0" stroke="#444" stroke-width="0.8"/>
<line x1="185.5" y1="244.5" x2="187.5" y2="244.5" stroke="#444" stroke-width="0.8"/>
<line x1="185.5" y1="242.0" x2="187.5" y2="242.0" stroke="#444" stroke-width="0.8"/>
<line x1="184.3" y1="239.0" x2="187.5" y2="239.0" stroke="#444" stroke-width="0.8"/>
<line x1="185.5" y1="236.5" x2="187.5" y2="236.5" stroke="#444" stroke-width="0.8"/>
<line x1="185.5" y1="234.0" x2="187.5" y2="234.0" stroke="#444" stroke-width="0.8"/>
<line x1="185.5" y1="231.5" x2="187.5" y2="231.5" stroke="#444" stroke-width="0.8"/>
<line x1="185.5" y1="229.0" x2="187.5" y2="229.0" stroke="#444" stroke-width="0.8"/>
<line x1="184.3" y1="226.5" x2="187.5" y2="226.5" stroke="#444" stroke-width="0.8"/>
<line x1="185.5" y1="224.0" x2="187.5" y2="224.0" stroke="#444" stroke-width="0.8"/>
<line x1="185.5" y1="221.5" x2="187.5" y2="221.5" stroke="#444" stroke-width="0.8"/>
<line x1="185.5" y1="219.0" x2="187.5" y2="219.0" stroke="#444" stroke-width="0.8"/>
<line x1="185.5" y1="216.5" x2="187.5" y2="216.5" stroke="#444" stroke-width="0.8"/>
<line x1="184.3" y1="214.0" x2="187.5" y2="214.0" stroke="#444" stroke-width="0.8"/>
<line x1="185.5" y1="211.5" x2="187.5" y2="211.5" stroke="#444" stroke-width="0.8"/>
<line x1="185.5" y1="209.0" x2="187.5" y2="209.0" stroke="#444" stroke-width="0.8"/>
<line x1="185.5" y1="206.5" x2="187.5" y2="206.5" stroke="#444" stroke-width="0.8"/>
<line x1="185.5" y1="204.0" x2="187.5" y2="204.0" stroke="#444" stroke-width="0.8"/>
<line x1="184.3" y1="201.5" x2="187.5" y2="201.5" stroke="#444" stroke-width="0.8"/>
<line x1="185.5" y1="199.0" x2="187.5" y2="199.0" stroke="#444" stroke-width="0.8"/>
<line x1="185.5" y1="196.0" x2="187.5" y2="196.0" stroke="#444" stroke-width="0.8"/>
<line x1="185.5" y1="193.5" x2="187.5" y2="193.5" stroke="#444" stroke-width="0.8"/>
<line x1="185.5" y1="191.0" x2="187.5" y2="191.0" stroke="#444" stroke-width="0.8"/>
<polygon points="386,277 386,277 386.7,276.81 387.4,276.63 388.1,276.41 388.8,276.35 389.5,276.17 390.2,276.04 390.9,275.87 391.6,275.45 392.3,275.38 393.0,275.39 393.7,275.22 394.4,274.57 395.1,274.71 395.8,274.23 396.5,273.6 397.2,272.99 397.9,272.58 398.6,272.61 399.3,272.31 400.0,271.59 400.7,270.05 401.4,269.46 402.1,267.83 402.8,266.09 403.5,263.81 404.2,264.4 404.9,262.81 405.6,258.18 406.3,254.06 407.0,253.4 407.7,245.0 408.4,249.09 409.1,239.65 409.8,237.91 410.5,232.36 411.2,233.51 411.9,238.0 412.6,233.25 413.3,226.57 414.0,232.12 414.7,204.73 415.4,199.88 416.1,192.56 416.8,198.42 417.5,205.44 418.2,189.9 418.9,200.93 419.6,208.99 420.3,189.9 421.0,202.58 421.7,190.85 422.4,189.9 423.1,206.06 423.8,209.72 424.5,197.68 425.2,218.65 425.9,216.91 426.6,215.67 427.3,217.88 428.0,209.63 428.7,220.6 429.4,231.87 430.1,218.88 430.8,225.67 431.5,231.88 432.2,227.36 432.9,235.38 433.6,240.34 434.3,248.56 435.0,250.98 435.7,252.01 436.4,258.29 437.1,263.66 437.8,267.21 438.5,267.88 439.2,270.19 439.9,270.83 440.6,272.11 441.3,272.89 442.0,273.65 442.7,274.03 443.4,274.69 444.1,274.99 444.8,275.34 445.5,275.71 446.2,276.16 446.9,276.43 447.6,276.8 448,277" fill="#e6e6e6" stroke="#cdcdcd" stroke-width="0.5"/>
<line x1="357.5" y1="189.4" x2="518.5" y2="189.4" stroke="#8a8a8a" stroke-width="1"/>
<line x1="518.5" y1="189.4" x2="518.5" y2="277" stroke="#8a8a8a" stroke-width="1"/>
<line x1="357.5" y1="189.4" x2="357.5" y2="277" stroke="#333" stroke-width="1"/>
<line x1="357.5" y1="277" x2="518.5" y2="277" stroke="#333" stroke-width="1"/>
<line x1="414.7" y1="189.4" x2="414.7" y2="277" stroke="#333" stroke-width="1"/>
<line x1="487.4" y1="189.4" x2="487.4" y2="277" stroke="#333" stroke-width="1"/>
<line x1="414.7" y1="233.2" x2="487.4" y2="233.2" stroke="#444" stroke-width="1.2"/>
<text x="402.3" y="183.7" font-size="14" text-anchor="start" fill="#000">Flagellin</text>
<text x="477.7" y="223.8" font-size="13.6" text-anchor="end" fill="#111">78.1</text>
<text x="503.1" y="229.3" font-size="6.8" text-anchor="middle" fill="#555">P3</text>
<line x1="359.5" y1="277" x2="359.5" y2="279" stroke="#333" stroke-width="0.9"/>
<line x1="364.5" y1="277" x2="364.5" y2="279" stroke="#333" stroke-width="0.9"/>
<line x1="368.5" y1="277" x2="368.5" y2="279" stroke="#333" stroke-width="0.9"/>
<line x1="371.5" y1="277" x2="371.5" y2="279" stroke="#333" stroke-width="0.9"/>
<line x1="374.5" y1="277" x2="374.5" y2="279" stroke="#333" stroke-width="0.9"/>
<line x1="376.5" y1="277" x2="376.5" y2="279" stroke="#333" stroke-width="0.9"/>
<line x1="378.5" y1="277" x2="378.5" y2="279" stroke="#333" stroke-width="0.9"/>
<line x1="380.5" y1="277" x2="380.5" y2="281" stroke="#333" stroke-width="0.9"/>
<line x1="392.5" y1="277" x2="392.5" y2="279" stroke="#333" stroke-width="0.9"/>
<line x1="399.5" y1="277" x2="399.5" y2="279" stroke="#333" stroke-width="0.9"/>
<line x1="404.5" y1="277" x2="404.5" y2="279" stroke="#333" stroke-width="0.9"/>
<line x1="408.5" y1="277" x2="408.5" y2="279" stroke="#333" stroke-width="0.9"/>
<line x1="411.5" y1="277" x2="411.5" y2="279" stroke="#333" stroke-width="0.9"/>
<line x1="414.5" y1="277" x2="414.5" y2="279" stroke="#333" stroke-width="0.9"/>
<line x1="416.5" y1="277" x2="416.5" y2="279" stroke="#333" stroke-width="0.9"/>
<line x1="419.5" y1="277" x2="419.5" y2="279" stroke="#333" stroke-width="0.9"/>
<line x1="420.5" y1="277" x2="420.5" y2="281" stroke="#333" stroke-width="0.9"/>
<line x1="433.5" y1="277" x2="433.5" y2="279" stroke="#333" stroke-width="0.9"/>
<line x1="440.5" y1="277" x2="440.5" y2="279" stroke="#333" stroke-width="0.9"/>
<line x1="445.5" y1="277" x2="445.5" y2="279" stroke="#333" stroke-width="0.9"/>
<line x1="449.5" y1="277" x2="449.5" y2="279" stroke="#333" stroke-width="0.9"/>
<line x1="452.5" y1="277" x2="452.5" y2="279" stroke="#333" stroke-width="0.9"/>
<line x1="455.5" y1="277" x2="455.5" y2="279" stroke="#333" stroke-width="0.9"/>
<line x1="457.5" y1="277" x2="457.5" y2="279" stroke="#333" stroke-width="0.9"/>
<line x1="459.5" y1="277" x2="459.5" y2="279" stroke="#333" stroke-width="0.9"/>
<line x1="461.5" y1="277" x2="461.5" y2="281" stroke="#333" stroke-width="0.9"/>
<line x1="473.5" y1="277" x2="473.5" y2="279" stroke="#333" stroke-width="0.9"/>
<line x1="480.5" y1="277" x2="480.5" y2="279" stroke="#333" stroke-width="0.9"/>
<line x1="485.5" y1="277" x2="485.5" y2="279" stroke="#333" stroke-width="0.9"/>
<line x1="489.5" y1="277" x2="489.5" y2="279" stroke="#333" stroke-width="0.9"/>
<line x1="492.5" y1="277" x2="492.5" y2="279" stroke="#333" stroke-width="0.9"/>
<line x1="495.5" y1="277" x2="495.5" y2="279" stroke="#333" stroke-width="0.9"/>
<line x1="497.5" y1="277" x2="497.5" y2="279" stroke="#333" stroke-width="0.9"/>
<line x1="499.5" y1="277" x2="499.5" y2="279" stroke="#333" stroke-width="0.9"/>
<line x1="501.5" y1="277" x2="501.5" y2="281" stroke="#333" stroke-width="0.9"/>
<line x1="513.5" y1="277" x2="513.5" y2="279" stroke="#333" stroke-width="0.9"/>
<text x="378.5" y="291.2" font-size="7.8" text-anchor="middle" fill="#222">10</text>
<text x="384.7" y="287.3" font-size="6.2" text-anchor="middle" fill="#222">2</text>
<text x="418.9" y="291.2" font-size="7.8" text-anchor="middle" fill="#222">10</text>
<text x="425.1" y="287.3" font-size="6.2" text-anchor="middle" fill="#222">3</text>
<text x="459.3" y="291.2" font-size="7.8" text-anchor="middle" fill="#222">10</text>
<text x="465.5" y="287.3" font-size="6.2" text-anchor="middle" fill="#222">4</text>
<text x="499.7" y="291.2" font-size="7.8" text-anchor="middle" fill="#222">10</text>
<text x="505.9" y="287.3" font-size="6.2" text-anchor="middle" fill="#222">5</text>
<line x1="355.5" y1="274.5" x2="357.5" y2="274.5" stroke="#444" stroke-width="0.8"/>
<line x1="355.5" y1="272.0" x2="357.5" y2="272.0" stroke="#444" stroke-width="0.8"/>
<line x1="355.5" y1="269.5" x2="357.5" y2="269.5" stroke="#444" stroke-width="0.8"/>
<line x1="355.5" y1="267.0" x2="357.5" y2="267.0" stroke="#444" stroke-width="0.8"/>
<line x1="354.3" y1="264.5" x2="357.5" y2="264.5" stroke="#444" stroke-width="0.8"/>
<line x1="355.5" y1="262.0" x2="357.5" y2="262.0" stroke="#444" stroke-width="0.8"/>
<line x1="355.5" y1="259.5" x2="357.5" y2="259.5" stroke="#444" stroke-width="0.8"/>
<line x1="355.5" y1="257.0" x2="357.5" y2="257.0" stroke="#444" stroke-width="0.8"/>
<line x1="355.5" y1="254.0" x2="357.5" y2="254.0" stroke="#444" stroke-width="0.8"/>
<line x1="354.3" y1="251.5" x2="357.5" y2="251.5" stroke="#444" stroke-width="0.8"/>
<line x1="355.5" y1="249.0" x2="357.5" y2="249.0" stroke="#444" stroke-width="0.8"/>
<line x1="355.5" y1="246.5" x2="357.5" y2="246.5" stroke="#444" stroke-width="0.8"/>
<line x1="355.5" y1="244.0" x2="357.5" y2="244.0" stroke="#444" stroke-width="0.8"/>
<line x1="355.5" y1="241.5" x2="357.5" y2="241.5" stroke="#444" stroke-width="0.8"/>
<line x1="354.3" y1="239.0" x2="357.5" y2="239.0" stroke="#444" stroke-width="0.8"/>
<line x1="355.5" y1="236.5" x2="357.5" y2="236.5" stroke="#444" stroke-width="0.8"/>
<line x1="355.5" y1="234.0" x2="357.5" y2="234.0" stroke="#444" stroke-width="0.8"/>
<line x1="355.5" y1="231.5" x2="357.5" y2="231.5" stroke="#444" stroke-width="0.8"/>
<line x1="355.5" y1="229.0" x2="357.5" y2="229.0" stroke="#444" stroke-width="0.8"/>
<line x1="354.3" y1="226.5" x2="357.5" y2="226.5" stroke="#444" stroke-width="0.8"/>
<line x1="355.5" y1="224.0" x2="357.5" y2="224.0" stroke="#444" stroke-width="0.8"/>
<line x1="355.5" y1="221.5" x2="357.5" y2="221.5" stroke="#444" stroke-width="0.8"/>
<line x1="355.5" y1="219.0" x2="357.5" y2="219.0" stroke="#444" stroke-width="0.8"/>
<line x1="355.5" y1="216.5" x2="357.5" y2="216.5" stroke="#444" stroke-width="0.8"/>
<line x1="354.3" y1="214.0" x2="357.5" y2="214.0" stroke="#444" stroke-width="0.8"/>
<line x1="355.5" y1="211.0" x2="357.5" y2="211.0" stroke="#444" stroke-width="0.8"/>
<line x1="355.5" y1="208.5" x2="357.5" y2="208.5" stroke="#444" stroke-width="0.8"/>
<line x1="355.5" y1="206.0" x2="357.5" y2="206.0" stroke="#444" stroke-width="0.8"/>
<line x1="355.5" y1="203.5" x2="357.5" y2="203.5" stroke="#444" stroke-width="0.8"/>
<line x1="354.3" y1="201.0" x2="357.5" y2="201.0" stroke="#444" stroke-width="0.8"/>
<line x1="355.5" y1="198.5" x2="357.5" y2="198.5" stroke="#444" stroke-width="0.8"/>
<line x1="355.5" y1="196.0" x2="357.5" y2="196.0" stroke="#444" stroke-width="0.8"/>
<line x1="355.5" y1="193.5" x2="357.5" y2="193.5" stroke="#444" stroke-width="0.8"/>
<line x1="355.5" y1="191.0" x2="357.5" y2="191.0" stroke="#444" stroke-width="0.8"/>
<text x="-0.6" y="183.8" font-size="13.5" text-anchor="start" fill="#000" font-weight="bold">B</text>
<text x="14.6" y="307.9" font-size="13.8" text-anchor="start" fill="#000">Tissue Factor</text>
<line x1="98" y1="305.6" x2="375" y2="305.6" stroke="#000" stroke-width="1.2"/>
<path d="M370.2 302.8 L375.8 305.6 L370.2 308.4" fill="none" stroke="#000" stroke-width="1.2"/>
<text x="-0.3" y="335" font-size="14" text-anchor="start" fill="#000" font-weight="bold">C</text>
<line x1="136.7" y1="339.3" x2="136.7" y2="515.6" stroke="#000" stroke-width="1.3"/>
<line x1="136.2" y1="515" x2="400" y2="515" stroke="#000" stroke-width="1.3"/>
<line x1="133.7" y1="514.8" x2="137" y2="514.8" stroke="#000" stroke-width="1.2"/>
<text x="132.8" y="518.5" font-size="10.4" text-anchor="end" fill="#000" font-weight="bold">0</text>
<line x1="133.7" y1="471.0799999999999" x2="137" y2="471.0799999999999" stroke="#000" stroke-width="1.2"/>
<text x="132.8" y="474.7799999999999" font-size="10.4" text-anchor="end" fill="#000" font-weight="bold">20</text>
<line x1="133.7" y1="427.35999999999996" x2="137" y2="427.35999999999996" stroke="#000" stroke-width="1.2"/>
<text x="132.8" y="431.05999999999995" font-size="10.4" text-anchor="end" fill="#000" font-weight="bold">40</text>
<line x1="133.7" y1="383.64" x2="137" y2="383.64" stroke="#000" stroke-width="1.2"/>
<text x="132.8" y="387.34" font-size="10.4" text-anchor="end" fill="#000" font-weight="bold">60</text>
<line x1="133.7" y1="339.91999999999996" x2="137" y2="339.91999999999996" stroke="#000" stroke-width="1.2"/>
<text x="132.8" y="343.61999999999995" font-size="10.4" text-anchor="end" fill="#000" font-weight="bold">80</text>
<line x1="169.8" y1="515" x2="169.8" y2="517.8" stroke="#000" stroke-width="1.0"/>
<line x1="235.5" y1="515" x2="235.5" y2="517.8" stroke="#000" stroke-width="1.0"/>
<line x1="300.6" y1="515" x2="300.6" y2="517.8" stroke="#000" stroke-width="1.0"/>
<line x1="366.5" y1="515" x2="366.5" y2="517.8" stroke="#000" stroke-width="1.0"/>
<text x="169.8" y="526.7" font-size="10" text-anchor="middle" fill="#000" font-weight="bold">Medium Alone</text>
<text x="235.5" y="526.7" font-size="10" text-anchor="middle" fill="#000" font-weight="bold">LPS</text>
<text x="300.6" y="526.7" font-size="10" text-anchor="middle" fill="#000" font-weight="bold">Flagellin</text>
<text x="366.5" y="526.7" font-size="10" text-anchor="middle" fill="#000" font-weight="bold">IL-6</text>
<text x="96.3" y="544.5" font-size="8" text-anchor="start" fill="#000" font-weight="bold">Median</text>
<text x="145" y="544.8" font-size="8.2" text-anchor="start" fill="#000" font-weight="bold">(N=9)</text>
<text x="171.1" y="544.8" font-size="8.2" text-anchor="start" fill="#000" font-weight="bold">7.6%</text>
<text x="208.3" y="544.8" font-size="8.2" text-anchor="start" fill="#000" font-weight="bold">(N=9)</text>
<text x="233.6" y="544.8" font-size="8.2" text-anchor="start" fill="#000" font-weight="bold">32.1%</text>
<text x="277" y="544.8" font-size="8.2" text-anchor="start" fill="#000" font-weight="bold">(N=9)</text>
<text x="302.5" y="544.8" font-size="8.2" text-anchor="start" fill="#000" font-weight="bold">47.5%</text>
<text x="348" y="544.8" font-size="8.2" text-anchor="start" fill="#000" font-weight="bold">(N=5)</text>
<text x="373.75" y="544.8" font-size="8.2" text-anchor="start" fill="#000" font-weight="bold">3.5%</text>
<text x="115.4" y="423.7" font-size="12.6" text-anchor="middle" fill="#000" font-weight="bold" transform="rotate(-90 115.4 423.7)">% Tissue Factor + Monocytes</text>
<line x1="165.2" y1="332.5" x2="300.3" y2="332.5" stroke="#000" stroke-width="1.6"/>
<line x1="165.2" y1="357.8" x2="234.2" y2="357.8" stroke="#000" stroke-width="1.6"/>
<text x="189.8" y="329.5" font-size="7.8" font-weight="bold"><tspan font-style="italic">P</tspan> &lt; .05</text>
<text x="187.5" y="354.8" font-size="7.8" font-weight="bold"><tspan font-style="italic">P</tspan> &lt; .05</text>
<circle cx="164.8" cy="484.1" r="2.9" fill="none" stroke="#000" stroke-width="1.3"/>
<circle cx="174.6" cy="491.6" r="2.9" fill="none" stroke="#000" stroke-width="1.3"/>
<circle cx="155.6" cy="496.8" r="2.9" fill="none" stroke="#000" stroke-width="1.3"/>
<circle cx="165.1" cy="497.9" r="2.9" fill="none" stroke="#000" stroke-width="1.3"/>
<circle cx="183.8" cy="497.1" r="2.9" fill="none" stroke="#000" stroke-width="1.3"/>
<circle cx="160.2" cy="501.4" r="2.9" fill="none" stroke="#000" stroke-width="1.3"/>
<circle cx="169.8" cy="503.7" r="2.9" fill="none" stroke="#000" stroke-width="1.3"/>
<circle cx="174.4" cy="499.4" r="2.9" fill="none" stroke="#000" stroke-width="1.3"/>
<circle cx="179.2" cy="503.4" r="2.9" fill="none" stroke="#000" stroke-width="1.3"/>
<circle cx="235.1" cy="394.7" r="2.9" fill="none" stroke="#000" stroke-width="1.3"/>
<circle cx="235.1" cy="426.5" r="2.9" fill="none" stroke="#000" stroke-width="1.3"/>
<circle cx="230.7" cy="435.4" r="2.9" fill="none" stroke="#000" stroke-width="1.3"/>
<circle cx="240.1" cy="440.1" r="2.9" fill="none" stroke="#000" stroke-width="1.3"/>
<circle cx="240.1" cy="445.1" r="2.9" fill="none" stroke="#000" stroke-width="1.3"/>
<circle cx="230.7" cy="452.6" r="2.9" fill="none" stroke="#000" stroke-width="1.3"/>
<circle cx="235.3" cy="470.4" r="2.9" fill="none" stroke="#000" stroke-width="1.3"/>
<circle cx="240.1" cy="480.5" r="2.9" fill="none" stroke="#000" stroke-width="1.3"/>
<circle cx="230.7" cy="483.6" r="2.9" fill="none" stroke="#000" stroke-width="1.3"/>
<circle cx="296" cy="350.1" r="3.25" fill="#3a3a3a" stroke="#000" stroke-width="1.2"/>
<circle cx="305.4" cy="357.7" r="3.25" fill="#3a3a3a" stroke="#000" stroke-width="1.2"/>
<circle cx="305.4" cy="383.9" r="3.25" fill="#3a3a3a" stroke="#000" stroke-width="1.2"/>
<circle cx="296" cy="392.6" r="3.25" fill="#3a3a3a" stroke="#000" stroke-width="1.2"/>
<circle cx="300.6" cy="412" r="3.25" fill="#3a3a3a" stroke="#000" stroke-width="1.2"/>
<circle cx="300.6" cy="456.1" r="3.25" fill="#3a3a3a" stroke="#000" stroke-width="1.2"/>
<circle cx="296" cy="469.3" r="3.25" fill="#3a3a3a" stroke="#000" stroke-width="1.2"/>
<circle cx="305.4" cy="471.3" r="3.25" fill="#3a3a3a" stroke="#000" stroke-width="1.2"/>
<circle cx="300.6" cy="490.2" r="3.25" fill="#3a3a3a" stroke="#000" stroke-width="1.2"/>
<circle cx="361.5" cy="499.2" r="3.35" fill="#111" stroke="#000" stroke-width="1.0"/>
<circle cx="356.2" cy="507.7" r="3.35" fill="#111" stroke="#000" stroke-width="1.0"/>
<circle cx="366.5" cy="509.2" r="3.35" fill="#111" stroke="#000" stroke-width="1.0"/>
<circle cx="370.8" cy="504.9" r="3.35" fill="#111" stroke="#000" stroke-width="1.0"/>
<circle cx="375.7" cy="508.2" r="3.35" fill="#111" stroke="#000" stroke-width="1.0"/>
<line x1="147.2" y1="497.5" x2="192.1" y2="497.5" stroke="#000" stroke-width="1.6"/>
<line x1="213.2" y1="447.5" x2="257.6" y2="447.5" stroke="#000" stroke-width="1.6"/>
<line x1="278.2" y1="420" x2="323.1" y2="420" stroke="#000" stroke-width="1.6"/>
<line x1="343.8" y1="505.7" x2="388.8" y2="505.7" stroke="#000" stroke-width="1.6"/>
</svg>
</body></html>
